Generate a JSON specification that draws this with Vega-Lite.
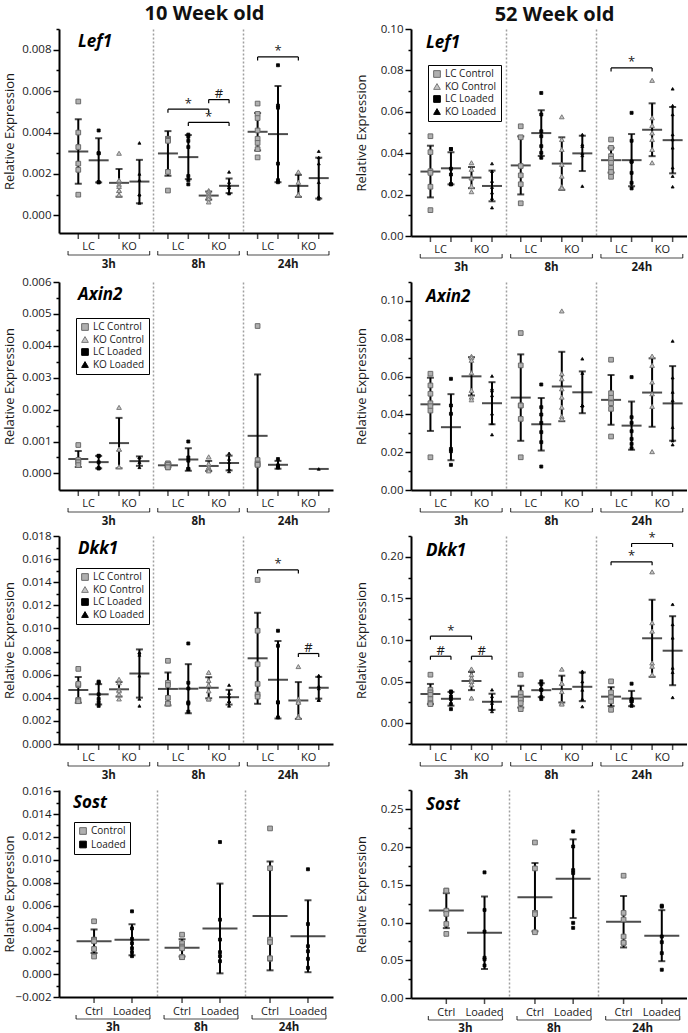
{
"$schema":"https://vega.github.io/schema/vega-lite/v6.json",
"background":"white",
"padding":{"left":3,"top":4,"right":0,"bottom":0},
"config":{
 "font":"Open Sans",
 "view":{"stroke":null},
 "axisY":{"grid":false,"domainColor":"#000","domainWidth":2,"tickColor":"#000","tickWidth":1.5,"labelFontSize":11.5,"labelColor":"#1a1a1a","labelPadding":2,"labelOverlap":false,"titleFontSize":13,"titleFontWeight":"normal","titleColor":"#1a1a1a","titleX":-46,"titleBaseline":"alphabetic"},
 "axisX":{"labels":false,"ticks":false,"domainColor":"#000","domainWidth":2,"grid":true,"gridDash":[2,2],"gridColor":"#a0a0a0","gridWidth":1.5,"bandPosition":0}
},
"datasets":{
"cats4":[{"t":"3h","c":"LC Control","lab":"LC"},{"t":"3h","c":"LC Loaded","lab":""},{"t":"3h","c":"KO Control","lab":"KO"},{"t":"3h","c":"KO Loaded","lab":""},{"t":"8h","c":"LC Control","lab":"LC"},{"t":"8h","c":"LC Loaded","lab":""},{"t":"8h","c":"KO Control","lab":"KO"},{"t":"8h","c":"KO Loaded","lab":""},{"t":"24h","c":"LC Control","lab":"LC"},{"t":"24h","c":"LC Loaded","lab":""},{"t":"24h","c":"KO Control","lab":"KO"},{"t":"24h","c":"KO Loaded","lab":""}],
"cats2":[{"t":"3h","c":"Control","lab":"Ctrl"},{"t":"3h","c":"Loaded","lab":"Loaded"},{"t":"8h","c":"Control","lab":"Ctrl"},{"t":"8h","c":"Loaded","lab":"Loaded"},{"t":"24h","c":"Control","lab":"Ctrl"},{"t":"24h","c":"Loaded","lab":"Loaded"}],
"times":[{"t":"3h"},{"t":"8h"},{"t":"24h"}],
"p1":[
{"t":"3h","c":"LC Control","v":0.0055},{"t":"3h","c":"LC Control","v":0.0040},{"t":"3h","c":"LC Control","v":0.0033},{"t":"3h","c":"LC Control","v":0.0025},{"t":"3h","c":"LC Control","v":0.0022},{"t":"3h","c":"LC Control","v":0.0010},
{"t":"3h","c":"LC Loaded","v":0.0041},{"t":"3h","c":"LC Loaded","v":0.0030},{"t":"3h","c":"LC Loaded","v":0.0030},{"t":"3h","c":"LC Loaded","v":0.0016},{"t":"3h","c":"LC Loaded","v":0.0016},
{"t":"3h","c":"KO Control","v":0.0030},{"t":"3h","c":"KO Control","v":0.0017},{"t":"3h","c":"KO Control","v":0.0015},{"t":"3h","c":"KO Control","v":0.0014},{"t":"3h","c":"KO Control","v":0.0012},{"t":"3h","c":"KO Control","v":0.0012},{"t":"3h","c":"KO Control","v":0.0010},
{"t":"3h","c":"KO Loaded","v":0.0035},{"t":"3h","c":"KO Loaded","v":0.0020},{"t":"3h","c":"KO Loaded","v":0.0017},{"t":"3h","c":"KO Loaded","v":0.0010},{"t":"3h","c":"KO Loaded","v":0.0010},{"t":"3h","c":"KO Loaded","v":0.0006},
{"t":"8h","c":"LC Control","v":0.0037},{"t":"8h","c":"LC Control","v":0.0037},{"t":"8h","c":"LC Control","v":0.00365},{"t":"8h","c":"LC Control","v":0.0036},{"t":"8h","c":"LC Control","v":0.0021},{"t":"8h","c":"LC Control","v":0.0012},
{"t":"8h","c":"LC Loaded","v":0.0039},{"t":"8h","c":"LC Loaded","v":0.0038},{"t":"8h","c":"LC Loaded","v":0.0036},{"t":"8h","c":"LC Loaded","v":0.0033},{"t":"8h","c":"LC Loaded","v":0.0019},{"t":"8h","c":"LC Loaded","v":0.0017},{"t":"8h","c":"LC Loaded","v":0.0015},
{"t":"8h","c":"KO Control","v":0.0012},{"t":"8h","c":"KO Control","v":0.00115},{"t":"8h","c":"KO Control","v":0.00105},{"t":"8h","c":"KO Control","v":0.00095},{"t":"8h","c":"KO Control","v":0.0009},{"t":"8h","c":"KO Control","v":0.0008},{"t":"8h","c":"KO Control","v":0.00065},
{"t":"8h","c":"KO Loaded","v":0.0021},{"t":"8h","c":"KO Loaded","v":0.0016},{"t":"8h","c":"KO Loaded","v":0.00145},{"t":"8h","c":"KO Loaded","v":0.00135},{"t":"8h","c":"KO Loaded","v":0.00135},{"t":"8h","c":"KO Loaded","v":0.0011},{"t":"8h","c":"KO Loaded","v":0.00105},
{"t":"24h","c":"LC Control","v":0.0054},{"t":"24h","c":"LC Control","v":0.0049},{"t":"24h","c":"LC Control","v":0.0047},{"t":"24h","c":"LC Control","v":0.0041},{"t":"24h","c":"LC Control","v":0.0037},{"t":"24h","c":"LC Control","v":0.0035},{"t":"24h","c":"LC Control","v":0.0032},{"t":"24h","c":"LC Control","v":0.0028},
{"t":"24h","c":"LC Loaded","v":0.00725},{"t":"24h","c":"LC Loaded","v":0.0053},{"t":"24h","c":"LC Loaded","v":0.0052},{"t":"24h","c":"LC Loaded","v":0.0025},{"t":"24h","c":"LC Loaded","v":0.0017},{"t":"24h","c":"LC Loaded","v":0.0016},
{"t":"24h","c":"KO Control","v":0.0021},{"t":"24h","c":"KO Control","v":0.0016},{"t":"24h","c":"KO Control","v":0.0010},{"t":"24h","c":"KO Control","v":0.0010},
{"t":"24h","c":"KO Loaded","v":0.0031},{"t":"24h","c":"KO Loaded","v":0.0028},{"t":"24h","c":"KO Loaded","v":0.0025},{"t":"24h","c":"KO Loaded","v":0.0016},{"t":"24h","c":"KO Loaded","v":0.0009},{"t":"24h","c":"KO Loaded","v":0.0009},{"t":"24h","c":"KO Loaded","v":0.0008}],
"s1":[{"b":1,"t":"8h","c":"LC Control","v":0.00513,"lo":0.00496,"o":1},{"b":1,"t":"8h","c":"KO Control","v":0.00513,"lo":0.00496,"o":2},{"b":2,"t":"8h","c":"KO Control","v":0.00559,"lo":0.00542,"o":1},{"b":2,"t":"8h","c":"KO Loaded","v":0.00559,"lo":0.00542,"o":2},{"b":3,"t":"8h","c":"LC Loaded","v":0.00449,"lo":0.00432,"o":1},{"b":3,"t":"8h","c":"KO Loaded","v":0.00449,"lo":0.00432,"o":2},{"b":4,"t":"24h","c":"LC Control","v":0.00765,"lo":0.00748,"o":1},{"b":4,"t":"24h","c":"KO Control","v":0.00765,"lo":0.00748,"o":2}],
"k1":[{"t":"8h","c":"LC Loaded","v":0.00513,"s":"*","h":0},{"t":"8h","c":"KO Control","v":0.00559,"s":"#","h":1},{"t":"8h","c":"KO Control","v":0.00449,"s":"*","h":0},{"t":"24h","c":"LC Loaded","v":0.00765,"s":"*","h":0}],
"p2":[
{"t":"3h","c":"LC Control","v":0.0482},{"t":"3h","c":"LC Control","v":0.0405},{"t":"3h","c":"LC Control","v":0.0313},{"t":"3h","c":"LC Control","v":0.0305},{"t":"3h","c":"LC Control","v":0.0238},{"t":"3h","c":"LC Control","v":0.0125},
{"t":"3h","c":"LC Loaded","v":0.042},{"t":"3h","c":"LC Loaded","v":0.042},{"t":"3h","c":"LC Loaded","v":0.0325},{"t":"3h","c":"LC Loaded","v":0.0297},{"t":"3h","c":"LC Loaded","v":0.025},{"t":"3h","c":"LC Loaded","v":0.025},
{"t":"3h","c":"KO Control","v":0.0354},{"t":"3h","c":"KO Control","v":0.0322},{"t":"3h","c":"KO Control","v":0.0281},{"t":"3h","c":"KO Control","v":0.0281},{"t":"3h","c":"KO Control","v":0.0241},{"t":"3h","c":"KO Control","v":0.0214},
{"t":"3h","c":"KO Loaded","v":0.035},{"t":"3h","c":"KO Loaded","v":0.0313},{"t":"3h","c":"KO Loaded","v":0.0265},{"t":"3h","c":"KO Loaded","v":0.0236},{"t":"3h","c":"KO Loaded","v":0.0209},{"t":"3h","c":"KO Loaded","v":0.0182},{"t":"3h","c":"KO Loaded","v":0.0137},
{"t":"8h","c":"LC Control","v":0.053},{"t":"8h","c":"LC Control","v":0.0477},{"t":"8h","c":"LC Control","v":0.0338},{"t":"8h","c":"LC Control","v":0.0293},{"t":"8h","c":"LC Control","v":0.025},{"t":"8h","c":"LC Control","v":0.0158},
{"t":"8h","c":"LC Loaded","v":0.0691},{"t":"8h","c":"LC Loaded","v":0.0587},{"t":"8h","c":"LC Loaded","v":0.0506},{"t":"8h","c":"LC Loaded","v":0.0482},{"t":"8h","c":"LC Loaded","v":0.0434},{"t":"8h","c":"LC Loaded","v":0.0402},{"t":"8h","c":"LC Loaded","v":0.0378},
{"t":"8h","c":"KO Control","v":0.0576},{"t":"8h","c":"KO Control","v":0.0466},{"t":"8h","c":"KO Control","v":0.0418},{"t":"8h","c":"KO Control","v":0.0346},{"t":"8h","c":"KO Control","v":0.0289},{"t":"8h","c":"KO Control","v":0.0238},{"t":"8h","c":"KO Control","v":0.0233},{"t":"8h","c":"KO Control","v":0.0233},
{"t":"8h","c":"KO Loaded","v":0.049},{"t":"8h","c":"KO Loaded","v":0.0442},{"t":"8h","c":"KO Loaded","v":0.0434},{"t":"8h","c":"KO Loaded","v":0.0399},{"t":"8h","c":"KO Loaded","v":0.0389},{"t":"8h","c":"KO Loaded","v":0.0241},
{"t":"24h","c":"LC Control","v":0.0466},{"t":"24h","c":"LC Control","v":0.0426},{"t":"24h","c":"LC Control","v":0.0386},{"t":"24h","c":"LC Control","v":0.0373},{"t":"24h","c":"LC Control","v":0.0354},{"t":"24h","c":"LC Control","v":0.033},{"t":"24h","c":"LC Control","v":0.0309},{"t":"24h","c":"LC Control","v":0.0286},
{"t":"24h","c":"LC Loaded","v":0.0595},{"t":"24h","c":"LC Loaded","v":0.046},{"t":"24h","c":"LC Loaded","v":0.0359},{"t":"24h","c":"LC Loaded","v":0.0359},{"t":"24h","c":"LC Loaded","v":0.0305},{"t":"24h","c":"LC Loaded","v":0.0257},{"t":"24h","c":"LC Loaded","v":0.023},
{"t":"24h","c":"KO Control","v":0.0752},{"t":"24h","c":"KO Control","v":0.0571},{"t":"24h","c":"KO Control","v":0.0534},{"t":"24h","c":"KO Control","v":0.0498},{"t":"24h","c":"KO Control","v":0.0466},{"t":"24h","c":"KO Control","v":0.0418},{"t":"24h","c":"KO Control","v":0.0354},
{"t":"24h","c":"KO Loaded","v":0.0711},{"t":"24h","c":"KO Loaded","v":0.063},{"t":"24h","c":"KO Loaded","v":0.0587},{"t":"24h","c":"KO Loaded","v":0.049},{"t":"24h","c":"KO Loaded","v":0.0466},{"t":"24h","c":"KO Loaded","v":0.0426},{"t":"24h","c":"KO Loaded","v":0.033},{"t":"24h","c":"KO Loaded","v":0.0289},{"t":"24h","c":"KO Loaded","v":0.0238}],
"s2":[{"b":1,"t":"24h","c":"LC Control","v":0.0812,"lo":0.0795,"o":1},{"b":1,"t":"24h","c":"KO Control","v":0.0812,"lo":0.0795,"o":2}],
"k2":[{"t":"24h","c":"LC Loaded","v":0.0812,"s":"*","h":0}],
"p3":[
{"t":"3h","c":"LC Control","v":0.00089},{"t":"3h","c":"LC Control","v":0.00042},{"t":"3h","c":"LC Control","v":0.00035},{"t":"3h","c":"LC Control","v":0.00035},{"t":"3h","c":"LC Control","v":0.00026},
{"t":"3h","c":"LC Loaded","v":0.00055},{"t":"3h","c":"LC Loaded","v":0.00055},{"t":"3h","c":"LC Loaded","v":0.00035},{"t":"3h","c":"LC Loaded","v":0.00016},{"t":"3h","c":"LC Loaded","v":0.00016},
{"t":"3h","c":"KO Control","v":0.00207},{"t":"3h","c":"KO Control","v":0.00076},{"t":"3h","c":"KO Control","v":0.00076},{"t":"3h","c":"KO Control","v":0.00021},
{"t":"3h","c":"KO Loaded","v":0.0005},{"t":"3h","c":"KO Loaded","v":0.0005},{"t":"3h","c":"KO Loaded","v":0.00035},{"t":"3h","c":"KO Loaded","v":0.00019},
{"t":"8h","c":"LC Control","v":0.00031},{"t":"8h","c":"LC Control","v":0.00031},{"t":"8h","c":"LC Control","v":0.00027},{"t":"8h","c":"LC Control","v":0.00019},{"t":"8h","c":"LC Control","v":0.00019},
{"t":"8h","c":"LC Loaded","v":0.001},{"t":"8h","c":"LC Loaded","v":0.0005},{"t":"8h","c":"LC Loaded","v":0.0004},{"t":"8h","c":"LC Loaded","v":0.00014},{"t":"8h","c":"LC Loaded","v":0.00014},
{"t":"8h","c":"KO Control","v":0.00052},{"t":"8h","c":"KO Control","v":0.0003},{"t":"8h","c":"KO Control","v":0.00019},{"t":"8h","c":"KO Control","v":0.00019},{"t":"8h","c":"KO Control","v":0.00012},{"t":"8h","c":"KO Control","v":0.00008},
{"t":"8h","c":"KO Loaded","v":0.00063},{"t":"8h","c":"KO Loaded","v":0.00045},{"t":"8h","c":"KO Loaded","v":0.00035},{"t":"8h","c":"KO Loaded","v":0.00014},{"t":"8h","c":"KO Loaded","v":0.00006},
{"t":"24h","c":"LC Control","v":0.00462},{"t":"24h","c":"LC Control","v":0.00042},{"t":"24h","c":"LC Control","v":0.00031},{"t":"24h","c":"LC Control","v":0.00027},{"t":"24h","c":"LC Control","v":0.00027},
{"t":"24h","c":"LC Loaded","v":0.00045},{"t":"24h","c":"LC Loaded","v":0.00025},{"t":"24h","c":"LC Loaded","v":0.00019},{"t":"24h","c":"LC Loaded","v":0.00019},
{"t":"24h","c":"KO Loaded","v":0.00014}],
"p4":[
{"t":"3h","c":"LC Control","v":0.0615},{"t":"3h","c":"LC Control","v":0.0553},{"t":"3h","c":"LC Control","v":0.0509},{"t":"3h","c":"LC Control","v":0.0459},{"t":"3h","c":"LC Control","v":0.0443},{"t":"3h","c":"LC Control","v":0.042},{"t":"3h","c":"LC Control","v":0.0173},
{"t":"3h","c":"LC Loaded","v":0.0588},{"t":"3h","c":"LC Loaded","v":0.0447},{"t":"3h","c":"LC Loaded","v":0.0403},{"t":"3h","c":"LC Loaded","v":0.0217},{"t":"3h","c":"LC Loaded","v":0.0205},{"t":"3h","c":"LC Loaded","v":0.0133},
{"t":"3h","c":"KO Control","v":0.0707},{"t":"3h","c":"KO Control","v":0.07},{"t":"3h","c":"KO Control","v":0.0686},{"t":"3h","c":"KO Control","v":0.062},{"t":"3h","c":"KO Control","v":0.0527},{"t":"3h","c":"KO Control","v":0.0491},{"t":"3h","c":"KO Control","v":0.0477},
{"t":"3h","c":"KO Loaded","v":0.0603},{"t":"3h","c":"KO Loaded","v":0.0535},{"t":"3h","c":"KO Loaded","v":0.0525},{"t":"3h","c":"KO Loaded","v":0.05},{"t":"3h","c":"KO Loaded","v":0.0403},{"t":"3h","c":"KO Loaded","v":0.0353},{"t":"3h","c":"KO Loaded","v":0.0293},
{"t":"8h","c":"LC Control","v":0.083},{"t":"8h","c":"LC Control","v":0.0659},{"t":"8h","c":"LC Control","v":0.0447},{"t":"8h","c":"LC Control","v":0.0447},{"t":"8h","c":"LC Control","v":0.0376},{"t":"8h","c":"LC Control","v":0.0173},
{"t":"8h","c":"LC Loaded","v":0.0558},{"t":"8h","c":"LC Loaded","v":0.0438},{"t":"8h","c":"LC Loaded","v":0.0399},{"t":"8h","c":"LC Loaded","v":0.0355},{"t":"8h","c":"LC Loaded","v":0.0306},{"t":"8h","c":"LC Loaded","v":0.0253},{"t":"8h","c":"LC Loaded","v":0.0124},
{"t":"8h","c":"KO Control","v":0.0947},{"t":"8h","c":"KO Control","v":0.0615},{"t":"8h","c":"KO Control","v":0.0588},{"t":"8h","c":"KO Control","v":0.0535},{"t":"8h","c":"KO Control","v":0.0491},{"t":"8h","c":"KO Control","v":0.0438},{"t":"8h","c":"KO Control","v":0.0389},{"t":"8h","c":"KO Control","v":0.0376},
{"t":"8h","c":"KO Loaded","v":0.0694},{"t":"8h","c":"KO Loaded","v":0.0618},{"t":"8h","c":"KO Loaded","v":0.0447},{"t":"8h","c":"KO Loaded","v":0.0447},{"t":"8h","c":"KO Loaded","v":0.0447},{"t":"8h","c":"KO Loaded","v":0.0447},
{"t":"24h","c":"LC Control","v":0.0689},{"t":"24h","c":"LC Control","v":0.0512},{"t":"24h","c":"LC Control","v":0.0488},{"t":"24h","c":"LC Control","v":0.0459},{"t":"24h","c":"LC Control","v":0.0429},{"t":"24h","c":"LC Control","v":0.0283},
{"t":"24h","c":"LC Loaded","v":0.0597},{"t":"24h","c":"LC Loaded","v":0.0385},{"t":"24h","c":"LC Loaded","v":0.0355},{"t":"24h","c":"LC Loaded","v":0.0311},{"t":"24h","c":"LC Loaded","v":0.027},{"t":"24h","c":"LC Loaded","v":0.0244},{"t":"24h","c":"LC Loaded","v":0.0221},
{"t":"24h","c":"KO Control","v":0.0708},{"t":"24h","c":"KO Control","v":0.0659},{"t":"24h","c":"KO Control","v":0.0571},{"t":"24h","c":"KO Control","v":0.0509},{"t":"24h","c":"KO Control","v":0.0442},{"t":"24h","c":"KO Control","v":0.0203},
{"t":"24h","c":"KO Loaded","v":0.0788},{"t":"24h","c":"KO Loaded","v":0.0594},{"t":"24h","c":"KO Loaded","v":0.0518},{"t":"24h","c":"KO Loaded","v":0.0473},{"t":"24h","c":"KO Loaded","v":0.0332},{"t":"24h","c":"KO Loaded","v":0.0261},{"t":"24h","c":"KO Loaded","v":0.024}],
"p5":[
{"t":"3h","c":"LC Control","v":0.0065},{"t":"3h","c":"LC Control","v":0.0051},{"t":"3h","c":"LC Control","v":0.0052},{"t":"3h","c":"LC Control","v":0.0038},{"t":"3h","c":"LC Control","v":0.0038},{"t":"3h","c":"LC Control","v":0.0037},
{"t":"3h","c":"LC Loaded","v":0.0054},{"t":"3h","c":"LC Loaded","v":0.0053},{"t":"3h","c":"LC Loaded","v":0.0043},{"t":"3h","c":"LC Loaded","v":0.0039},{"t":"3h","c":"LC Loaded","v":0.0036},{"t":"3h","c":"LC Loaded","v":0.0033},
{"t":"3h","c":"KO Control","v":0.0056},{"t":"3h","c":"KO Control","v":0.0053},{"t":"3h","c":"KO Control","v":0.0047},{"t":"3h","c":"KO Control","v":0.0046},{"t":"3h","c":"KO Control","v":0.0043},{"t":"3h","c":"KO Control","v":0.0039},
{"t":"3h","c":"KO Loaded","v":0.0079},{"t":"3h","c":"KO Loaded","v":0.0079},{"t":"3h","c":"KO Loaded","v":0.0077},{"t":"3h","c":"KO Loaded","v":0.0059},{"t":"3h","c":"KO Loaded","v":0.0039},{"t":"3h","c":"KO Loaded","v":0.0033},
{"t":"8h","c":"LC Control","v":0.0072},{"t":"8h","c":"LC Control","v":0.0053},{"t":"8h","c":"LC Control","v":0.0051},{"t":"8h","c":"LC Control","v":0.004},{"t":"8h","c":"LC Control","v":0.0035},{"t":"8h","c":"LC Control","v":0.0035},
{"t":"8h","c":"LC Loaded","v":0.0087},{"t":"8h","c":"LC Loaded","v":0.0053},{"t":"8h","c":"LC Loaded","v":0.0048},{"t":"8h","c":"LC Loaded","v":0.0036},{"t":"8h","c":"LC Loaded","v":0.0035},{"t":"8h","c":"LC Loaded","v":0.0028},
{"t":"8h","c":"KO Control","v":0.0062},{"t":"8h","c":"KO Control","v":0.0055},{"t":"8h","c":"KO Control","v":0.0051},{"t":"8h","c":"KO Control","v":0.0046},{"t":"8h","c":"KO Control","v":0.0039},{"t":"8h","c":"KO Control","v":0.0039},
{"t":"8h","c":"KO Loaded","v":0.0051},{"t":"8h","c":"KO Loaded","v":0.0044},{"t":"8h","c":"KO Loaded","v":0.0041},{"t":"8h","c":"KO Loaded","v":0.0037},{"t":"8h","c":"KO Loaded","v":0.0037},{"t":"8h","c":"KO Loaded","v":0.0033},
{"t":"24h","c":"LC Control","v":0.0142},{"t":"24h","c":"LC Control","v":0.0098},{"t":"24h","c":"LC Control","v":0.0069},{"t":"24h","c":"LC Control","v":0.0052},{"t":"24h","c":"LC Control","v":0.0043},{"t":"24h","c":"LC Control","v":0.0041},
{"t":"24h","c":"LC Loaded","v":0.0098},{"t":"24h","c":"LC Loaded","v":0.0085},{"t":"24h","c":"LC Loaded","v":0.0036},{"t":"24h","c":"LC Loaded","v":0.0036},{"t":"24h","c":"LC Loaded","v":0.0023},
{"t":"24h","c":"KO Control","v":0.0067},{"t":"24h","c":"KO Control","v":0.0039},{"t":"24h","c":"KO Control","v":0.0037},{"t":"24h","c":"KO Control","v":0.0036},{"t":"24h","c":"KO Control","v":0.0024},{"t":"24h","c":"KO Control","v":0.0023},
{"t":"24h","c":"KO Loaded","v":0.0059},{"t":"24h","c":"KO Loaded","v":0.0059},{"t":"24h","c":"KO Loaded","v":0.005},{"t":"24h","c":"KO Loaded","v":0.0048},{"t":"24h","c":"KO Loaded","v":0.0038},{"t":"24h","c":"KO Loaded","v":0.0038}],
"s5":[{"b":1,"t":"24h","c":"LC Control","v":0.01506,"lo":0.01476,"o":1},{"b":1,"t":"24h","c":"KO Control","v":0.01506,"lo":0.01476,"o":2},{"b":2,"t":"24h","c":"KO Control","v":0.00783,"lo":0.00753,"o":1},{"b":2,"t":"24h","c":"KO Loaded","v":0.00783,"lo":0.00753,"o":2}],
"k5":[{"t":"24h","c":"LC Loaded","v":0.01506,"s":"*","h":0},{"t":"24h","c":"KO Control","v":0.00783,"s":"#","h":1}],
"p6":[
{"t":"3h","c":"LC Control","v":0.0583},{"t":"3h","c":"LC Control","v":0.0402},{"t":"3h","c":"LC Control","v":0.037},{"t":"3h","c":"LC Control","v":0.0342},{"t":"3h","c":"LC Control","v":0.029},{"t":"3h","c":"LC Control","v":0.0241},{"t":"3h","c":"LC Control","v":0.0229},
{"t":"3h","c":"LC Loaded","v":0.0382},{"t":"3h","c":"LC Loaded","v":0.037},{"t":"3h","c":"LC Loaded","v":0.032},{"t":"3h","c":"LC Loaded","v":0.029},{"t":"3h","c":"LC Loaded","v":0.0229},{"t":"3h","c":"LC Loaded","v":0.0169},
{"t":"3h","c":"KO Control","v":0.0652},{"t":"3h","c":"KO Control","v":0.0583},{"t":"3h","c":"KO Control","v":0.0543},{"t":"3h","c":"KO Control","v":0.0503},{"t":"3h","c":"KO Control","v":0.0503},{"t":"3h","c":"KO Control","v":0.0463},{"t":"3h","c":"KO Control","v":0.0302},
{"t":"3h","c":"KO Loaded","v":0.0402},{"t":"3h","c":"KO Loaded","v":0.0322},{"t":"3h","c":"KO Loaded","v":0.027},{"t":"3h","c":"KO Loaded","v":0.0241},{"t":"3h","c":"KO Loaded","v":0.0169},{"t":"3h","c":"KO Loaded","v":0.0141},
{"t":"8h","c":"LC Control","v":0.0583},{"t":"8h","c":"LC Control","v":0.0362},{"t":"8h","c":"LC Control","v":0.0314},{"t":"8h","c":"LC Control","v":0.0282},{"t":"8h","c":"LC Control","v":0.0282},{"t":"8h","c":"LC Control","v":0.0241},{"t":"8h","c":"LC Control","v":0.0169},
{"t":"8h","c":"LC Loaded","v":0.0503},{"t":"8h","c":"LC Loaded","v":0.047},{"t":"8h","c":"LC Loaded","v":0.0402},{"t":"8h","c":"LC Loaded","v":0.0402},{"t":"8h","c":"LC Loaded","v":0.0314},{"t":"8h","c":"LC Loaded","v":0.029},
{"t":"8h","c":"KO Control","v":0.065},{"t":"8h","c":"KO Control","v":0.048},{"t":"8h","c":"KO Control","v":0.048},{"t":"8h","c":"KO Control","v":0.038},{"t":"8h","c":"KO Control","v":0.024},{"t":"8h","c":"KO Control","v":0.023},
{"t":"8h","c":"KO Loaded","v":0.0624},{"t":"8h","c":"KO Loaded","v":0.0612},{"t":"8h","c":"KO Loaded","v":0.05},{"t":"8h","c":"KO Loaded","v":0.04},{"t":"8h","c":"KO Loaded","v":0.029},{"t":"8h","c":"KO Loaded","v":0.02},
{"t":"24h","c":"LC Control","v":0.0503},{"t":"24h","c":"LC Control","v":0.037},{"t":"24h","c":"LC Control","v":0.031},{"t":"24h","c":"LC Control","v":0.031},{"t":"24h","c":"LC Control","v":0.0262},{"t":"24h","c":"LC Control","v":0.0161},
{"t":"24h","c":"LC Loaded","v":0.0475},{"t":"24h","c":"LC Loaded","v":0.029},{"t":"24h","c":"LC Loaded","v":0.028},{"t":"24h","c":"LC Loaded","v":0.0262},{"t":"24h","c":"LC Loaded","v":0.0262},{"t":"24h","c":"LC Loaded","v":0.0209},
{"t":"24h","c":"KO Control","v":0.1819},{"t":"24h","c":"KO Control","v":0.1207},{"t":"24h","c":"KO Control","v":0.1107},{"t":"24h","c":"KO Control","v":0.0724},{"t":"24h","c":"KO Control","v":0.0684},{"t":"24h","c":"KO Control","v":0.0583},
{"t":"24h","c":"KO Loaded","v":0.1429},{"t":"24h","c":"KO Loaded","v":0.1187},{"t":"24h","c":"KO Loaded","v":0.1026},{"t":"24h","c":"KO Loaded","v":0.0664},{"t":"24h","c":"KO Loaded","v":0.0612},{"t":"24h","c":"KO Loaded","v":0.031}],
"s6":[{"b":1,"t":"3h","c":"LC Control","v":0.1046,"lo":0.1004,"o":1},{"b":1,"t":"3h","c":"KO Control","v":0.1046,"lo":0.1004,"o":2},{"b":2,"t":"3h","c":"LC Control","v":0.0805,"lo":0.0763,"o":1},{"b":2,"t":"3h","c":"LC Loaded","v":0.0805,"lo":0.0763,"o":2},{"b":3,"t":"3h","c":"KO Control","v":0.0805,"lo":0.0763,"o":1},{"b":3,"t":"3h","c":"KO Loaded","v":0.0805,"lo":0.0763,"o":2},{"b":4,"t":"24h","c":"LC Control","v":0.194,"lo":0.1898,"o":1},{"b":4,"t":"24h","c":"KO Control","v":0.194,"lo":0.1898,"o":2},{"b":5,"t":"24h","c":"LC Loaded","v":0.216,"lo":0.2118,"o":1},{"b":5,"t":"24h","c":"KO Loaded","v":0.216,"lo":0.2118,"o":2}],
"k6":[{"t":"3h","c":"LC Loaded","v":0.1046,"s":"*","h":0},{"t":"3h","c":"LC Control","v":0.0805,"s":"#","h":1},{"t":"3h","c":"KO Control","v":0.0805,"s":"#","h":1},{"t":"24h","c":"LC Loaded","v":0.194,"s":"*","h":0},{"t":"24h","c":"KO Control","v":0.216,"s":"*","h":0}],
"p7":[
{"t":"3h","c":"Control","v":0.00462},{"t":"3h","c":"Control","v":0.00302},{"t":"3h","c":"Control","v":0.003},{"t":"3h","c":"Control","v":0.00287},{"t":"3h","c":"Control","v":0.0022},{"t":"3h","c":"Control","v":0.00154},
{"t":"3h","c":"Loaded","v":0.00549},{"t":"3h","c":"Loaded","v":0.004},{"t":"3h","c":"Loaded","v":0.00308},{"t":"3h","c":"Loaded","v":0.0027},{"t":"3h","c":"Loaded","v":0.00226},{"t":"3h","c":"Loaded","v":0.00192},{"t":"3h","c":"Loaded","v":0.00157},
{"t":"8h","c":"Control","v":0.00345},{"t":"8h","c":"Control","v":0.0027},{"t":"8h","c":"Control","v":0.00241},{"t":"8h","c":"Control","v":0.00226},{"t":"8h","c":"Control","v":0.00148},{"t":"8h","c":"Control","v":0.00148},
{"t":"8h","c":"Loaded","v":0.01155},{"t":"8h","c":"Loaded","v":0.00476},{"t":"8h","c":"Loaded","v":0.00302},{"t":"8h","c":"Loaded","v":0.00192},{"t":"8h","c":"Loaded","v":0.00157},{"t":"8h","c":"Loaded","v":0.00113},
{"t":"24h","c":"Control","v":0.01274},{"t":"24h","c":"Control","v":0.00926},{"t":"24h","c":"Control","v":0.00302},{"t":"24h","c":"Control","v":0.00279},{"t":"24h","c":"Control","v":0.00134},{"t":"24h","c":"Control","v":0.00139},
{"t":"24h","c":"Loaded","v":0.00917},{"t":"24h","c":"Loaded","v":0.00438},{"t":"24h","c":"Loaded","v":0.00244},{"t":"24h","c":"Loaded","v":0.002},{"t":"24h","c":"Loaded","v":0.00134},{"t":"24h","c":"Loaded","v":0.00055}],
"p8":[
{"t":"3h","c":"Control","v":0.1422},{"t":"3h","c":"Control","v":0.1422},{"t":"3h","c":"Control","v":0.1157},{"t":"3h","c":"Control","v":0.1113},{"t":"3h","c":"Control","v":0.0981},{"t":"3h","c":"Control","v":0.0849},
{"t":"3h","c":"Loaded","v":0.1664},{"t":"3h","c":"Loaded","v":0.1166},{"t":"3h","c":"Loaded","v":0.088},{"t":"3h","c":"Loaded","v":0.0533},{"t":"3h","c":"Loaded","v":0.0511},{"t":"3h","c":"Loaded","v":0.0431},
{"t":"8h","c":"Control","v":0.206},{"t":"8h","c":"Control","v":0.1716},{"t":"8h","c":"Control","v":0.1127},{"t":"8h","c":"Control","v":0.1127},{"t":"8h","c":"Control","v":0.111},{"t":"8h","c":"Control","v":0.0871},
{"t":"8h","c":"Loaded","v":0.2205},{"t":"8h","c":"Loaded","v":0.2007},{"t":"8h","c":"Loaded","v":0.1694},{"t":"8h","c":"Loaded","v":0.1655},{"t":"8h","c":"Loaded","v":0.0995},{"t":"8h","c":"Loaded","v":0.0929},
{"t":"24h","c":"Control","v":0.162},{"t":"24h","c":"Control","v":0.1127},{"t":"24h","c":"Control","v":0.1039},{"t":"24h","c":"Control","v":0.0814},{"t":"24h","c":"Control","v":0.0731},{"t":"24h","c":"Control","v":0.0731},
{"t":"24h","c":"Loaded","v":0.121},{"t":"24h","c":"Loaded","v":0.1223},{"t":"24h","c":"Loaded","v":0.0814},{"t":"24h","c":"Loaded","v":0.0739},{"t":"24h","c":"Loaded","v":0.0594},{"t":"24h","c":"Loaded","v":0.0374}]
},
"columns":2,
"spacing":{"row":46,"column":78},
"bounds":"flush",
"resolve":{"scale":{"shape":"independent","fill":"independent","stroke":"independent","xOffset":"independent"},"legend":{"shape":"independent","fill":"independent","stroke":"independent"}},
"concat":[
{"width":274,"height":204,"layer":[
{"data":{"name":"p1"},"transform":[{"aggregate":[{"op":"mean","field":"v","as":"m"},{"op":"stdev","field":"v","as":"sd"}],"groupby":["t","c"]},{"calculate":"datum.m-datum.sd","as":"lo"},{"calculate":"datum.m+datum.sd","as":"hi"}],"mark":{"type":"rule","strokeWidth":2,"color":"#000","clip":true},"encoding":{"x":{"field":"t","type":"nominal","title":null,"scale":{"domain":["3h","8h","24h"],"paddingInner":0,"paddingOuter":0.028,"align":1},"axis":{"gridOpacity":{"condition":{"test":"datum.value === '3h'","value":0},"value":1}}},"xOffset":{"field":"c","type":"nominal","scale":{"domain":["LC Control","LC Loaded","KO Control","KO Loaded"],"paddingInner":0,"paddingOuter":0.2}},"y":{"field":"lo","type":"quantitative","scale":{"domain":[-0.00085,0.009],"nice":false,"zero":false},"axis":{"title":"Relative Expression","labelOverlap":false,"tickCount":100,"values":[0,0.001,0.002,0.003,0.004,0.005,0.006,0.007,0.008,0.009],"labelExpr":"round(datum.value*1000)%2==0 ? format(datum.value,'.3f') : ''","tickSize":{"condition":{"test":"round(datum.value*1000)%2==0","value":6},"value":3}}},"y2":{"field":"hi"}}},
{"data":{"name":"p1"},"transform":[{"aggregate":[{"op":"mean","field":"v","as":"m"},{"op":"stdev","field":"v","as":"sd"}],"groupby":["t","c"]},{"calculate":"datum.m-datum.sd","as":"lo"},{"calculate":"datum.m+datum.sd","as":"hi"},{"fold":["lo","hi"],"as":["k","cv"]}],"mark":{"type":"tick","orient":"horizontal","size":7,"thickness":2,"color":"#000","clip":true},"encoding":{"x":{"field":"t","type":"nominal","scale":{"domain":["3h","8h","24h"],"paddingInner":0,"paddingOuter":0.028,"align":1}},"xOffset":{"field":"c","type":"nominal","scale":{"domain":["LC Control","LC Loaded","KO Control","KO Loaded"],"paddingInner":0,"paddingOuter":0.2}},"y":{"field":"cv","type":"quantitative","scale":{"domain":[-0.00085,0.009],"nice":false,"zero":false}}}},
{"data":{"name":"p1"},"transform":[{"aggregate":[{"op":"mean","field":"v","as":"m"}],"groupby":["t","c"]}],"mark":{"type":"tick","orient":"horizontal","size":20,"thickness":2,"color":"#000"},"encoding":{"x":{"field":"t","type":"nominal","scale":{"domain":["3h","8h","24h"],"paddingInner":0,"paddingOuter":0.028,"align":1}},"xOffset":{"field":"c","type":"nominal","scale":{"domain":["LC Control","LC Loaded","KO Control","KO Loaded"],"paddingInner":0,"paddingOuter":0.2}},"y":{"field":"m","type":"quantitative","scale":{"domain":[-0.00085,0.009],"nice":false,"zero":false}}}},
{"data":{"name":"p1"},"transform":[{"filter":"indexof(datum.c,'Control')>=0"}],"mark":{"type":"point","filled":true,"size":22,"strokeWidth":1,"opacity":1},"encoding":{"x":{"field":"t","type":"nominal","scale":{"domain":["3h","8h","24h"],"paddingInner":0,"paddingOuter":0.028,"align":1}},"xOffset":{"field":"c","type":"nominal","scale":{"domain":["LC Control","LC Loaded","KO Control","KO Loaded"],"paddingInner":0,"paddingOuter":0.2}},"y":{"field":"v","type":"quantitative","scale":{"domain":[-0.00085,0.009],"nice":false,"zero":false}},"shape":{"field":"c","type":"nominal","scale":{"domain":["LC Control","KO Control","LC Loaded","KO Loaded"],"range":["square","triangle-up","square","triangle-up"]},"legend":null},"fill":{"field":"c","type":"nominal","scale":{"domain":["LC Control","KO Control","LC Loaded","KO Loaded"],"range":["#b0b0b0","#c6c6c6","#000000","#000000"]},"legend":null},"stroke":{"field":"c","type":"nominal","scale":{"domain":["LC Control","KO Control","LC Loaded","KO Loaded"],"range":["#6b6b6b","#7a7a7a","#000000","#000000"]},"legend":null}}},
{"data":{"name":"p1"},"transform":[{"filter":"indexof(datum.c,'Loaded')>=0"}],"mark":{"type":"point","filled":true,"size":9,"strokeWidth":0.8,"opacity":1},"encoding":{"x":{"field":"t","type":"nominal","scale":{"domain":["3h","8h","24h"],"paddingInner":0,"paddingOuter":0.028,"align":1}},"xOffset":{"field":"c","type":"nominal","scale":{"domain":["LC Control","LC Loaded","KO Control","KO Loaded"],"paddingInner":0,"paddingOuter":0.2}},"y":{"field":"v","type":"quantitative","scale":{"domain":[-0.00085,0.009],"nice":false,"zero":false}},"shape":{"field":"c","type":"nominal","scale":{"domain":["LC Control","KO Control","LC Loaded","KO Loaded"],"range":["square","triangle-up","square","triangle-up"]},"legend":null},"fill":{"field":"c","type":"nominal","scale":{"domain":["LC Control","KO Control","LC Loaded","KO Loaded"],"range":["#b0b0b0","#c6c6c6","#000000","#000000"]},"legend":null},"stroke":{"field":"c","type":"nominal","scale":{"domain":["LC Control","KO Control","LC Loaded","KO Loaded"],"range":["#6b6b6b","#7a7a7a","#000000","#000000"]},"legend":null}}},
{"data":{"name":"cats4"},"mark":{"type":"tick","orient":"vertical","size":5,"thickness":1.5,"yOffset":3.5,"color":"#000"},"encoding":{"x":{"field":"t","type":"nominal","scale":{"domain":["3h","8h","24h"],"paddingInner":0,"paddingOuter":0.028,"align":1}},"xOffset":{"field":"c","type":"nominal","scale":{"domain":["LC Control","LC Loaded","KO Control","KO Loaded"],"paddingInner":0,"paddingOuter":0.2}},"y":{"datum":-0.00085,"type":"quantitative","scale":{"domain":[-0.00085,0.009],"nice":false,"zero":false}}}},
{"data":{"name":"cats4"},"transform":[{"filter":"datum.lab != ''"}],"mark":{"type":"text","dx":10.2,"dy":14,"fontSize":11,"baseline":"middle","color":"#1a1a1a"},"encoding":{"x":{"field":"t","type":"nominal","scale":{"domain":["3h","8h","24h"],"paddingInner":0,"paddingOuter":0.028,"align":1}},"xOffset":{"field":"c","type":"nominal","scale":{"domain":["LC Control","LC Loaded","KO Control","KO Loaded"],"paddingInner":0,"paddingOuter":0.2}},"y":{"datum":-0.00085,"type":"quantitative","scale":{"domain":[-0.00085,0.009],"nice":false,"zero":false}},"text":{"field":"lab"}}},
{"data":{"name":"times"},"mark":{"type":"tick","orient":"horizontal","size":82,"thickness":1.2,"yOffset":22,"color":"#000"},"encoding":{"x":{"field":"t","type":"nominal","scale":{"domain":["3h","8h","24h"],"paddingInner":0,"paddingOuter":0.028,"align":1}},"y":{"datum":-0.00085,"type":"quantitative","scale":{"domain":[-0.00085,0.009],"nice":false,"zero":false}}}},
{"data":{"name":"times"},"mark":{"type":"tick","orient":"vertical","size":4,"thickness":1.2,"yOffset":20,"color":"#000"},"encoding":{"x":{"field":"t","type":"nominal","bandPosition":0.045,"scale":{"domain":["3h","8h","24h"],"paddingInner":0,"paddingOuter":0.028,"align":1}},"y":{"datum":-0.00085,"type":"quantitative","scale":{"domain":[-0.00085,0.009],"nice":false,"zero":false}}}},
{"data":{"name":"times"},"mark":{"type":"tick","orient":"vertical","size":4,"thickness":1.2,"yOffset":20,"color":"#000"},"encoding":{"x":{"field":"t","type":"nominal","bandPosition":0.955,"scale":{"domain":["3h","8h","24h"],"paddingInner":0,"paddingOuter":0.028,"align":1}},"y":{"datum":-0.00085,"type":"quantitative","scale":{"domain":[-0.00085,0.009],"nice":false,"zero":false}}}},
{"data":{"name":"times"},"mark":{"type":"text","dy":32,"fontSize":11.5,"fontWeight":"bold","baseline":"middle","color":"#1a1a1a"},"encoding":{"x":{"field":"t","type":"nominal","scale":{"domain":["3h","8h","24h"],"paddingInner":0,"paddingOuter":0.028,"align":1}},"y":{"datum":-0.00085,"type":"quantitative","scale":{"domain":[-0.00085,0.009],"nice":false,"zero":false}},"text":{"field":"t"}}},
{"data":{"values":[{"t":"3h","g":"Lef1"}]},"mark":{"type":"text","align":"left","baseline":"top","dx":14,"dy":5,"fontSize":17,"fontWeight":"bold","fontStyle":"italic","color":"#000"},"encoding":{"x":{"field":"t","type":"nominal","bandPosition":0,"scale":{"domain":["3h","8h","24h"],"paddingInner":0,"paddingOuter":0.028,"align":1}},"y":{"datum":0.009,"type":"quantitative","scale":{"domain":[-0.00085,0.009],"nice":false,"zero":false}},"text":{"field":"g"}}},
{"data":{"values":[{"t":"8h","g":"10 Week old"}]},"mark":{"type":"text","baseline":"alphabetic","dx":6,"dy":-9,"fontSize":20,"fontWeight":"bold","color":"#111"},"encoding":{"x":{"field":"t","type":"nominal","scale":{"domain":["3h","8h","24h"],"paddingInner":0,"paddingOuter":0.028,"align":1}},"y":{"datum":0.009,"type":"quantitative","scale":{"domain":[-0.00085,0.009],"nice":false,"zero":false}},"text":{"field":"g"}}},
{"data":{"name":"s1"},"mark":{"type":"line","color":"#000","strokeWidth":1.2},"encoding":{"x":{"field":"t","type":"nominal","scale":{"domain":["3h","8h","24h"],"paddingInner":0,"paddingOuter":0.028,"align":1}},"xOffset":{"field":"c","type":"nominal","scale":{"domain":["LC Control","LC Loaded","KO Control","KO Loaded"],"paddingInner":0,"paddingOuter":0.2}},"y":{"field":"v","type":"quantitative","scale":{"domain":[-0.00085,0.009],"nice":false,"zero":false}},"detail":{"field":"b","type":"nominal"},"order":{"field":"o","type":"quantitative"}}},
{"data":{"name":"s1"},"mark":{"type":"rule","color":"#000","strokeWidth":1.2},"encoding":{"x":{"field":"t","type":"nominal","scale":{"domain":["3h","8h","24h"],"paddingInner":0,"paddingOuter":0.028,"align":1}},"xOffset":{"field":"c","type":"nominal","scale":{"domain":["LC Control","LC Loaded","KO Control","KO Loaded"],"paddingInner":0,"paddingOuter":0.2}},"y":{"field":"v","type":"quantitative","scale":{"domain":[-0.00085,0.009],"nice":false,"zero":false}},"y2":{"field":"lo"}}},
{"data":{"name":"k1"},"transform":[{"filter":"datum.h==0"}],"mark":{"type":"text","fontSize":13,"baseline":"alphabetic","dy":-1.5,"color":"#1a1a1a"},"encoding":{"x":{"field":"t","type":"nominal","scale":{"domain":["3h","8h","24h"],"paddingInner":0,"paddingOuter":0.028,"align":1}},"xOffset":{"field":"c","type":"nominal","scale":{"domain":["LC Control","LC Loaded","KO Control","KO Loaded"],"paddingInner":0,"paddingOuter":0.2}},"y":{"field":"v","type":"quantitative","scale":{"domain":[-0.00085,0.009],"nice":false,"zero":false}},"text":{"field":"s"}}},
{"data":{"name":"k1"},"transform":[{"filter":"datum.h==1"}],"mark":{"type":"text","fontSize":13,"baseline":"alphabetic","dy":-1.5,"dx":10.2,"color":"#1a1a1a"},"encoding":{"x":{"field":"t","type":"nominal","scale":{"domain":["3h","8h","24h"],"paddingInner":0,"paddingOuter":0.028,"align":1}},"xOffset":{"field":"c","type":"nominal","scale":{"domain":["LC Control","LC Loaded","KO Control","KO Loaded"],"paddingInner":0,"paddingOuter":0.2}},"y":{"field":"v","type":"quantitative","scale":{"domain":[-0.00085,0.009],"nice":false,"zero":false}},"text":{"field":"s"}}}
]},
{"width":276,"height":207,"layer":[
{"data":{"name":"p2"},"transform":[{"aggregate":[{"op":"mean","field":"v","as":"m"},{"op":"stdev","field":"v","as":"sd"}],"groupby":["t","c"]},{"calculate":"datum.m-datum.sd","as":"lo"},{"calculate":"datum.m+datum.sd","as":"hi"}],"mark":{"type":"rule","strokeWidth":2,"color":"#000","clip":true},"encoding":{"x":{"field":"t","type":"nominal","title":null,"scale":{"domain":["3h","8h","24h"],"paddingInner":0,"paddingOuter":0.028,"align":1},"axis":{"gridOpacity":{"condition":{"test":"datum.value === '3h'","value":0},"value":1}}},"xOffset":{"field":"c","type":"nominal","scale":{"domain":["LC Control","LC Loaded","KO Control","KO Loaded"],"paddingInner":0,"paddingOuter":0.2}},"y":{"field":"lo","type":"quantitative","scale":{"domain":[0,0.1],"nice":false,"zero":false},"axis":{"title":"Relative Expression","labelOverlap":false,"tickCount":100,"values":[0,0.01,0.02,0.03,0.04,0.05,0.06,0.07,0.08,0.09,0.1],"labelExpr":"round(datum.value*100)%2==0 ? format(datum.value,'.2f') : ''","tickSize":{"condition":{"test":"round(datum.value*100)%2==0","value":6},"value":3}}},"y2":{"field":"hi"}}},
{"data":{"name":"p2"},"transform":[{"aggregate":[{"op":"mean","field":"v","as":"m"},{"op":"stdev","field":"v","as":"sd"}],"groupby":["t","c"]},{"calculate":"datum.m-datum.sd","as":"lo"},{"calculate":"datum.m+datum.sd","as":"hi"},{"fold":["lo","hi"],"as":["k","cv"]}],"mark":{"type":"tick","orient":"horizontal","size":7,"thickness":2,"color":"#000","clip":true},"encoding":{"x":{"field":"t","type":"nominal","scale":{"domain":["3h","8h","24h"],"paddingInner":0,"paddingOuter":0.028,"align":1}},"xOffset":{"field":"c","type":"nominal","scale":{"domain":["LC Control","LC Loaded","KO Control","KO Loaded"],"paddingInner":0,"paddingOuter":0.2}},"y":{"field":"cv","type":"quantitative","scale":{"domain":[0,0.1],"nice":false,"zero":false}}}},
{"data":{"name":"p2"},"transform":[{"aggregate":[{"op":"mean","field":"v","as":"m"}],"groupby":["t","c"]}],"mark":{"type":"tick","orient":"horizontal","size":20,"thickness":2,"color":"#000"},"encoding":{"x":{"field":"t","type":"nominal","scale":{"domain":["3h","8h","24h"],"paddingInner":0,"paddingOuter":0.028,"align":1}},"xOffset":{"field":"c","type":"nominal","scale":{"domain":["LC Control","LC Loaded","KO Control","KO Loaded"],"paddingInner":0,"paddingOuter":0.2}},"y":{"field":"m","type":"quantitative","scale":{"domain":[0,0.1],"nice":false,"zero":false}}}},
{"data":{"name":"p2"},"transform":[{"filter":"indexof(datum.c,'Control')>=0"}],"mark":{"type":"point","filled":true,"size":22,"strokeWidth":1,"opacity":1},"encoding":{"x":{"field":"t","type":"nominal","scale":{"domain":["3h","8h","24h"],"paddingInner":0,"paddingOuter":0.028,"align":1}},"xOffset":{"field":"c","type":"nominal","scale":{"domain":["LC Control","LC Loaded","KO Control","KO Loaded"],"paddingInner":0,"paddingOuter":0.2}},"y":{"field":"v","type":"quantitative","scale":{"domain":[0,0.1],"nice":false,"zero":false}},"shape":{"field":"c","type":"nominal","scale":{"domain":["LC Control","KO Control","LC Loaded","KO Loaded"],"range":["square","triangle-up","square","triangle-up"]},"legend":{"title":null,"orient":"none","legendX":17,"legendY":36,"strokeColor":"#000","padding":4,"symbolSize":45,"symbolStrokeWidth":1,"labelFontSize":10,"labelColor":"#1a1a1a","rowPadding":1.5,"labelOffset":3}},"fill":{"field":"c","type":"nominal","scale":{"domain":["LC Control","KO Control","LC Loaded","KO Loaded"],"range":["#b0b0b0","#c6c6c6","#000000","#000000"]},"legend":{"title":null,"orient":"none","legendX":17,"legendY":36,"strokeColor":"#000","padding":4,"symbolSize":45,"symbolStrokeWidth":1,"labelFontSize":10,"labelColor":"#1a1a1a","rowPadding":1.5,"labelOffset":3}},"stroke":{"field":"c","type":"nominal","scale":{"domain":["LC Control","KO Control","LC Loaded","KO Loaded"],"range":["#6b6b6b","#7a7a7a","#000000","#000000"]},"legend":{"title":null,"orient":"none","legendX":17,"legendY":36,"strokeColor":"#000","padding":4,"symbolSize":45,"symbolStrokeWidth":1,"labelFontSize":10,"labelColor":"#1a1a1a","rowPadding":1.5,"labelOffset":3}}}},
{"data":{"name":"p2"},"transform":[{"filter":"indexof(datum.c,'Loaded')>=0"}],"mark":{"type":"point","filled":true,"size":9,"strokeWidth":0.8,"opacity":1},"encoding":{"x":{"field":"t","type":"nominal","scale":{"domain":["3h","8h","24h"],"paddingInner":0,"paddingOuter":0.028,"align":1}},"xOffset":{"field":"c","type":"nominal","scale":{"domain":["LC Control","LC Loaded","KO Control","KO Loaded"],"paddingInner":0,"paddingOuter":0.2}},"y":{"field":"v","type":"quantitative","scale":{"domain":[0,0.1],"nice":false,"zero":false}},"shape":{"field":"c","type":"nominal","scale":{"domain":["LC Control","KO Control","LC Loaded","KO Loaded"],"range":["square","triangle-up","square","triangle-up"]},"legend":{"title":null,"orient":"none","legendX":17,"legendY":36,"strokeColor":"#000","padding":4,"symbolSize":45,"symbolStrokeWidth":1,"labelFontSize":10,"labelColor":"#1a1a1a","rowPadding":1.5,"labelOffset":3}},"fill":{"field":"c","type":"nominal","scale":{"domain":["LC Control","KO Control","LC Loaded","KO Loaded"],"range":["#b0b0b0","#c6c6c6","#000000","#000000"]},"legend":{"title":null,"orient":"none","legendX":17,"legendY":36,"strokeColor":"#000","padding":4,"symbolSize":45,"symbolStrokeWidth":1,"labelFontSize":10,"labelColor":"#1a1a1a","rowPadding":1.5,"labelOffset":3}},"stroke":{"field":"c","type":"nominal","scale":{"domain":["LC Control","KO Control","LC Loaded","KO Loaded"],"range":["#6b6b6b","#7a7a7a","#000000","#000000"]},"legend":{"title":null,"orient":"none","legendX":17,"legendY":36,"strokeColor":"#000","padding":4,"symbolSize":45,"symbolStrokeWidth":1,"labelFontSize":10,"labelColor":"#1a1a1a","rowPadding":1.5,"labelOffset":3}}}},
{"data":{"name":"cats4"},"mark":{"type":"tick","orient":"vertical","size":5,"thickness":1.5,"yOffset":3.5,"color":"#000"},"encoding":{"x":{"field":"t","type":"nominal","scale":{"domain":["3h","8h","24h"],"paddingInner":0,"paddingOuter":0.028,"align":1}},"xOffset":{"field":"c","type":"nominal","scale":{"domain":["LC Control","LC Loaded","KO Control","KO Loaded"],"paddingInner":0,"paddingOuter":0.2}},"y":{"datum":0,"type":"quantitative","scale":{"domain":[0,0.1],"nice":false,"zero":false}}}},
{"data":{"name":"cats4"},"transform":[{"filter":"datum.lab != ''"}],"mark":{"type":"text","dx":10.2,"dy":14,"fontSize":11,"baseline":"middle","color":"#1a1a1a"},"encoding":{"x":{"field":"t","type":"nominal","scale":{"domain":["3h","8h","24h"],"paddingInner":0,"paddingOuter":0.028,"align":1}},"xOffset":{"field":"c","type":"nominal","scale":{"domain":["LC Control","LC Loaded","KO Control","KO Loaded"],"paddingInner":0,"paddingOuter":0.2}},"y":{"datum":0,"type":"quantitative","scale":{"domain":[0,0.1],"nice":false,"zero":false}},"text":{"field":"lab"}}},
{"data":{"name":"times"},"mark":{"type":"tick","orient":"horizontal","size":82,"thickness":1.2,"yOffset":22,"color":"#000"},"encoding":{"x":{"field":"t","type":"nominal","scale":{"domain":["3h","8h","24h"],"paddingInner":0,"paddingOuter":0.028,"align":1}},"y":{"datum":0,"type":"quantitative","scale":{"domain":[0,0.1],"nice":false,"zero":false}}}},
{"data":{"name":"times"},"mark":{"type":"tick","orient":"vertical","size":4,"thickness":1.2,"yOffset":20,"color":"#000"},"encoding":{"x":{"field":"t","type":"nominal","bandPosition":0.047,"scale":{"domain":["3h","8h","24h"],"paddingInner":0,"paddingOuter":0.028,"align":1}},"y":{"datum":0,"type":"quantitative","scale":{"domain":[0,0.1],"nice":false,"zero":false}}}},
{"data":{"name":"times"},"mark":{"type":"tick","orient":"vertical","size":4,"thickness":1.2,"yOffset":20,"color":"#000"},"encoding":{"x":{"field":"t","type":"nominal","bandPosition":0.953,"scale":{"domain":["3h","8h","24h"],"paddingInner":0,"paddingOuter":0.028,"align":1}},"y":{"datum":0,"type":"quantitative","scale":{"domain":[0,0.1],"nice":false,"zero":false}}}},
{"data":{"name":"times"},"mark":{"type":"text","dy":32,"fontSize":11.5,"fontWeight":"bold","baseline":"middle","color":"#1a1a1a"},"encoding":{"x":{"field":"t","type":"nominal","scale":{"domain":["3h","8h","24h"],"paddingInner":0,"paddingOuter":0.028,"align":1}},"y":{"datum":0,"type":"quantitative","scale":{"domain":[0,0.1],"nice":false,"zero":false}},"text":{"field":"t"}}},
{"data":{"values":[{"t":"3h","g":"Lef1"}]},"mark":{"type":"text","align":"left","baseline":"top","dx":10,"dy":6,"fontSize":17,"fontWeight":"bold","fontStyle":"italic","color":"#000"},"encoding":{"x":{"field":"t","type":"nominal","bandPosition":0,"scale":{"domain":["3h","8h","24h"],"paddingInner":0,"paddingOuter":0.028,"align":1}},"y":{"datum":0.1,"type":"quantitative","scale":{"domain":[0,0.1],"nice":false,"zero":false}},"text":{"field":"g"}}},
{"data":{"values":[{"t":"8h","g":"52 Week old"}]},"mark":{"type":"text","baseline":"alphabetic","dx":3,"dy":-8,"fontSize":20,"fontWeight":"bold","color":"#111"},"encoding":{"x":{"field":"t","type":"nominal","scale":{"domain":["3h","8h","24h"],"paddingInner":0,"paddingOuter":0.028,"align":1}},"y":{"datum":0.1,"type":"quantitative","scale":{"domain":[0,0.1],"nice":false,"zero":false}},"text":{"field":"g"}}},
{"data":{"name":"s2"},"mark":{"type":"line","color":"#000","strokeWidth":1.2},"encoding":{"x":{"field":"t","type":"nominal","scale":{"domain":["3h","8h","24h"],"paddingInner":0,"paddingOuter":0.028,"align":1}},"xOffset":{"field":"c","type":"nominal","scale":{"domain":["LC Control","LC Loaded","KO Control","KO Loaded"],"paddingInner":0,"paddingOuter":0.2}},"y":{"field":"v","type":"quantitative","scale":{"domain":[0,0.1],"nice":false,"zero":false}},"detail":{"field":"b","type":"nominal"},"order":{"field":"o","type":"quantitative"}}},
{"data":{"name":"s2"},"mark":{"type":"rule","color":"#000","strokeWidth":1.2},"encoding":{"x":{"field":"t","type":"nominal","scale":{"domain":["3h","8h","24h"],"paddingInner":0,"paddingOuter":0.028,"align":1}},"xOffset":{"field":"c","type":"nominal","scale":{"domain":["LC Control","LC Loaded","KO Control","KO Loaded"],"paddingInner":0,"paddingOuter":0.2}},"y":{"field":"v","type":"quantitative","scale":{"domain":[0,0.1],"nice":false,"zero":false}},"y2":{"field":"lo"}}},
{"data":{"name":"k2"},"mark":{"type":"text","fontSize":13,"baseline":"alphabetic","dy":-1.5,"color":"#1a1a1a"},"encoding":{"x":{"field":"t","type":"nominal","scale":{"domain":["3h","8h","24h"],"paddingInner":0,"paddingOuter":0.028,"align":1}},"xOffset":{"field":"c","type":"nominal","scale":{"domain":["LC Control","LC Loaded","KO Control","KO Loaded"],"paddingInner":0,"paddingOuter":0.2}},"y":{"field":"v","type":"quantitative","scale":{"domain":[0,0.1],"nice":false,"zero":false}},"text":{"field":"s"}}}
]},
{"width":274,"height":208,"layer":[
{"data":{"name":"p3"},"transform":[{"aggregate":[{"op":"mean","field":"v","as":"m"},{"op":"stdev","field":"v","as":"sd"}],"groupby":["t","c"]},{"calculate":"datum.m-datum.sd","as":"lo"},{"calculate":"datum.m+datum.sd","as":"hi"}],"mark":{"type":"rule","strokeWidth":2,"color":"#000","clip":true},"encoding":{"x":{"field":"t","type":"nominal","title":null,"scale":{"domain":["3h","8h","24h"],"paddingInner":0,"paddingOuter":0.028,"align":1},"axis":{"gridOpacity":{"condition":{"test":"datum.value === '3h'","value":0},"value":1}}},"xOffset":{"field":"c","type":"nominal","scale":{"domain":["LC Control","LC Loaded","KO Control","KO Loaded"],"paddingInner":0,"paddingOuter":0.2}},"y":{"field":"lo","type":"quantitative","scale":{"domain":[-0.00052,0.006],"nice":false,"zero":false},"axis":{"title":"Relative Expression","labelOverlap":false,"tickCount":100,"values":[0,0.0005,0.001,0.0015,0.002,0.0025,0.003,0.0035,0.004,0.0045,0.005,0.0055,0.006],"labelExpr":"round(datum.value*2000)%2==0 ? format(datum.value,'.3f') : ''","tickSize":{"condition":{"test":"round(datum.value*2000)%2==0","value":6},"value":3}}},"y2":{"field":"hi"}}},
{"data":{"name":"p3"},"transform":[{"aggregate":[{"op":"mean","field":"v","as":"m"},{"op":"stdev","field":"v","as":"sd"}],"groupby":["t","c"]},{"calculate":"datum.m-datum.sd","as":"lo"},{"calculate":"datum.m+datum.sd","as":"hi"},{"fold":["lo","hi"],"as":["k","cv"]}],"mark":{"type":"tick","orient":"horizontal","size":7,"thickness":2,"color":"#000","clip":true},"encoding":{"x":{"field":"t","type":"nominal","scale":{"domain":["3h","8h","24h"],"paddingInner":0,"paddingOuter":0.028,"align":1}},"xOffset":{"field":"c","type":"nominal","scale":{"domain":["LC Control","LC Loaded","KO Control","KO Loaded"],"paddingInner":0,"paddingOuter":0.2}},"y":{"field":"cv","type":"quantitative","scale":{"domain":[-0.00052,0.006],"nice":false,"zero":false}}}},
{"data":{"name":"p3"},"transform":[{"aggregate":[{"op":"mean","field":"v","as":"m"}],"groupby":["t","c"]}],"mark":{"type":"tick","orient":"horizontal","size":20,"thickness":2,"color":"#000"},"encoding":{"x":{"field":"t","type":"nominal","scale":{"domain":["3h","8h","24h"],"paddingInner":0,"paddingOuter":0.028,"align":1}},"xOffset":{"field":"c","type":"nominal","scale":{"domain":["LC Control","LC Loaded","KO Control","KO Loaded"],"paddingInner":0,"paddingOuter":0.2}},"y":{"field":"m","type":"quantitative","scale":{"domain":[-0.00052,0.006],"nice":false,"zero":false}}}},
{"data":{"name":"p3"},"transform":[{"filter":"indexof(datum.c,'Control')>=0"}],"mark":{"type":"point","filled":true,"size":22,"strokeWidth":1,"opacity":1},"encoding":{"x":{"field":"t","type":"nominal","scale":{"domain":["3h","8h","24h"],"paddingInner":0,"paddingOuter":0.028,"align":1}},"xOffset":{"field":"c","type":"nominal","scale":{"domain":["LC Control","LC Loaded","KO Control","KO Loaded"],"paddingInner":0,"paddingOuter":0.2}},"y":{"field":"v","type":"quantitative","scale":{"domain":[-0.00052,0.006],"nice":false,"zero":false}},"shape":{"field":"c","type":"nominal","scale":{"domain":["LC Control","KO Control","LC Loaded","KO Loaded"],"range":["square","triangle-up","square","triangle-up"]},"legend":{"title":null,"orient":"none","legendX":17,"legendY":36,"strokeColor":"#000","padding":4,"symbolSize":45,"symbolStrokeWidth":1,"labelFontSize":10,"labelColor":"#1a1a1a","rowPadding":1.5,"labelOffset":3}},"fill":{"field":"c","type":"nominal","scale":{"domain":["LC Control","KO Control","LC Loaded","KO Loaded"],"range":["#b0b0b0","#c6c6c6","#000000","#000000"]},"legend":{"title":null,"orient":"none","legendX":17,"legendY":36,"strokeColor":"#000","padding":4,"symbolSize":45,"symbolStrokeWidth":1,"labelFontSize":10,"labelColor":"#1a1a1a","rowPadding":1.5,"labelOffset":3}},"stroke":{"field":"c","type":"nominal","scale":{"domain":["LC Control","KO Control","LC Loaded","KO Loaded"],"range":["#6b6b6b","#7a7a7a","#000000","#000000"]},"legend":{"title":null,"orient":"none","legendX":17,"legendY":36,"strokeColor":"#000","padding":4,"symbolSize":45,"symbolStrokeWidth":1,"labelFontSize":10,"labelColor":"#1a1a1a","rowPadding":1.5,"labelOffset":3}}}},
{"data":{"name":"p3"},"transform":[{"filter":"indexof(datum.c,'Loaded')>=0"}],"mark":{"type":"point","filled":true,"size":9,"strokeWidth":0.8,"opacity":1},"encoding":{"x":{"field":"t","type":"nominal","scale":{"domain":["3h","8h","24h"],"paddingInner":0,"paddingOuter":0.028,"align":1}},"xOffset":{"field":"c","type":"nominal","scale":{"domain":["LC Control","LC Loaded","KO Control","KO Loaded"],"paddingInner":0,"paddingOuter":0.2}},"y":{"field":"v","type":"quantitative","scale":{"domain":[-0.00052,0.006],"nice":false,"zero":false}},"shape":{"field":"c","type":"nominal","scale":{"domain":["LC Control","KO Control","LC Loaded","KO Loaded"],"range":["square","triangle-up","square","triangle-up"]},"legend":{"title":null,"orient":"none","legendX":17,"legendY":36,"strokeColor":"#000","padding":4,"symbolSize":45,"symbolStrokeWidth":1,"labelFontSize":10,"labelColor":"#1a1a1a","rowPadding":1.5,"labelOffset":3}},"fill":{"field":"c","type":"nominal","scale":{"domain":["LC Control","KO Control","LC Loaded","KO Loaded"],"range":["#b0b0b0","#c6c6c6","#000000","#000000"]},"legend":{"title":null,"orient":"none","legendX":17,"legendY":36,"strokeColor":"#000","padding":4,"symbolSize":45,"symbolStrokeWidth":1,"labelFontSize":10,"labelColor":"#1a1a1a","rowPadding":1.5,"labelOffset":3}},"stroke":{"field":"c","type":"nominal","scale":{"domain":["LC Control","KO Control","LC Loaded","KO Loaded"],"range":["#6b6b6b","#7a7a7a","#000000","#000000"]},"legend":{"title":null,"orient":"none","legendX":17,"legendY":36,"strokeColor":"#000","padding":4,"symbolSize":45,"symbolStrokeWidth":1,"labelFontSize":10,"labelColor":"#1a1a1a","rowPadding":1.5,"labelOffset":3}}}},
{"data":{"name":"cats4"},"mark":{"type":"tick","orient":"vertical","size":5,"thickness":1.5,"yOffset":3.5,"color":"#000"},"encoding":{"x":{"field":"t","type":"nominal","scale":{"domain":["3h","8h","24h"],"paddingInner":0,"paddingOuter":0.028,"align":1}},"xOffset":{"field":"c","type":"nominal","scale":{"domain":["LC Control","LC Loaded","KO Control","KO Loaded"],"paddingInner":0,"paddingOuter":0.2}},"y":{"datum":-0.00052,"type":"quantitative","scale":{"domain":[-0.00052,0.006],"nice":false,"zero":false}}}},
{"data":{"name":"cats4"},"transform":[{"filter":"datum.lab != ''"}],"mark":{"type":"text","dx":10.2,"dy":14,"fontSize":11,"baseline":"middle","color":"#1a1a1a"},"encoding":{"x":{"field":"t","type":"nominal","scale":{"domain":["3h","8h","24h"],"paddingInner":0,"paddingOuter":0.028,"align":1}},"xOffset":{"field":"c","type":"nominal","scale":{"domain":["LC Control","LC Loaded","KO Control","KO Loaded"],"paddingInner":0,"paddingOuter":0.2}},"y":{"datum":-0.00052,"type":"quantitative","scale":{"domain":[-0.00052,0.006],"nice":false,"zero":false}},"text":{"field":"lab"}}},
{"data":{"name":"times"},"mark":{"type":"tick","orient":"horizontal","size":82,"thickness":1.2,"yOffset":22,"color":"#000"},"encoding":{"x":{"field":"t","type":"nominal","scale":{"domain":["3h","8h","24h"],"paddingInner":0,"paddingOuter":0.028,"align":1}},"y":{"datum":-0.00052,"type":"quantitative","scale":{"domain":[-0.00052,0.006],"nice":false,"zero":false}}}},
{"data":{"name":"times"},"mark":{"type":"tick","orient":"vertical","size":4,"thickness":1.2,"yOffset":20,"color":"#000"},"encoding":{"x":{"field":"t","type":"nominal","bandPosition":0.045,"scale":{"domain":["3h","8h","24h"],"paddingInner":0,"paddingOuter":0.028,"align":1}},"y":{"datum":-0.00052,"type":"quantitative","scale":{"domain":[-0.00052,0.006],"nice":false,"zero":false}}}},
{"data":{"name":"times"},"mark":{"type":"tick","orient":"vertical","size":4,"thickness":1.2,"yOffset":20,"color":"#000"},"encoding":{"x":{"field":"t","type":"nominal","bandPosition":0.955,"scale":{"domain":["3h","8h","24h"],"paddingInner":0,"paddingOuter":0.028,"align":1}},"y":{"datum":-0.00052,"type":"quantitative","scale":{"domain":[-0.00052,0.006],"nice":false,"zero":false}}}},
{"data":{"name":"times"},"mark":{"type":"text","dy":32,"fontSize":11.5,"fontWeight":"bold","baseline":"middle","color":"#1a1a1a"},"encoding":{"x":{"field":"t","type":"nominal","scale":{"domain":["3h","8h","24h"],"paddingInner":0,"paddingOuter":0.028,"align":1}},"y":{"datum":-0.00052,"type":"quantitative","scale":{"domain":[-0.00052,0.006],"nice":false,"zero":false}},"text":{"field":"t"}}},
{"data":{"values":[{"t":"3h","g":"Axin2"}]},"mark":{"type":"text","align":"left","baseline":"top","dx":14,"dy":5,"fontSize":17,"fontWeight":"bold","fontStyle":"italic","color":"#000"},"encoding":{"x":{"field":"t","type":"nominal","bandPosition":0,"scale":{"domain":["3h","8h","24h"],"paddingInner":0,"paddingOuter":0.028,"align":1}},"y":{"datum":0.006,"type":"quantitative","scale":{"domain":[-0.00052,0.006],"nice":false,"zero":false}},"text":{"field":"g"}}}
]},
{"width":276,"height":208,"layer":[
{"data":{"name":"p4"},"transform":[{"aggregate":[{"op":"mean","field":"v","as":"m"},{"op":"stdev","field":"v","as":"sd"}],"groupby":["t","c"]},{"calculate":"datum.m-datum.sd","as":"lo"},{"calculate":"datum.m+datum.sd","as":"hi"}],"mark":{"type":"rule","strokeWidth":2,"color":"#000","clip":true},"encoding":{"x":{"field":"t","type":"nominal","title":null,"scale":{"domain":["3h","8h","24h"],"paddingInner":0,"paddingOuter":0.028,"align":1},"axis":{"gridOpacity":{"condition":{"test":"datum.value === '3h'","value":0},"value":1}}},"xOffset":{"field":"c","type":"nominal","scale":{"domain":["LC Control","LC Loaded","KO Control","KO Loaded"],"paddingInner":0,"paddingOuter":0.2}},"y":{"field":"lo","type":"quantitative","scale":{"domain":[0,0.11],"nice":false,"zero":false},"axis":{"title":"Relative Expression","labelOverlap":false,"tickCount":100,"values":[0,0.01,0.02,0.03,0.04,0.05,0.06,0.07,0.08,0.09,0.1,0.11],"labelExpr":"round(datum.value*100)%2==0 ? format(datum.value,'.2f') : ''","tickSize":{"condition":{"test":"round(datum.value*100)%2==0","value":6},"value":3}}},"y2":{"field":"hi"}}},
{"data":{"name":"p4"},"transform":[{"aggregate":[{"op":"mean","field":"v","as":"m"},{"op":"stdev","field":"v","as":"sd"}],"groupby":["t","c"]},{"calculate":"datum.m-datum.sd","as":"lo"},{"calculate":"datum.m+datum.sd","as":"hi"},{"fold":["lo","hi"],"as":["k","cv"]}],"mark":{"type":"tick","orient":"horizontal","size":7,"thickness":2,"color":"#000","clip":true},"encoding":{"x":{"field":"t","type":"nominal","scale":{"domain":["3h","8h","24h"],"paddingInner":0,"paddingOuter":0.028,"align":1}},"xOffset":{"field":"c","type":"nominal","scale":{"domain":["LC Control","LC Loaded","KO Control","KO Loaded"],"paddingInner":0,"paddingOuter":0.2}},"y":{"field":"cv","type":"quantitative","scale":{"domain":[0,0.11],"nice":false,"zero":false}}}},
{"data":{"name":"p4"},"transform":[{"aggregate":[{"op":"mean","field":"v","as":"m"}],"groupby":["t","c"]}],"mark":{"type":"tick","orient":"horizontal","size":20,"thickness":2,"color":"#000"},"encoding":{"x":{"field":"t","type":"nominal","scale":{"domain":["3h","8h","24h"],"paddingInner":0,"paddingOuter":0.028,"align":1}},"xOffset":{"field":"c","type":"nominal","scale":{"domain":["LC Control","LC Loaded","KO Control","KO Loaded"],"paddingInner":0,"paddingOuter":0.2}},"y":{"field":"m","type":"quantitative","scale":{"domain":[0,0.11],"nice":false,"zero":false}}}},
{"data":{"name":"p4"},"transform":[{"filter":"indexof(datum.c,'Control')>=0"}],"mark":{"type":"point","filled":true,"size":22,"strokeWidth":1,"opacity":1},"encoding":{"x":{"field":"t","type":"nominal","scale":{"domain":["3h","8h","24h"],"paddingInner":0,"paddingOuter":0.028,"align":1}},"xOffset":{"field":"c","type":"nominal","scale":{"domain":["LC Control","LC Loaded","KO Control","KO Loaded"],"paddingInner":0,"paddingOuter":0.2}},"y":{"field":"v","type":"quantitative","scale":{"domain":[0,0.11],"nice":false,"zero":false}},"shape":{"field":"c","type":"nominal","scale":{"domain":["LC Control","KO Control","LC Loaded","KO Loaded"],"range":["square","triangle-up","square","triangle-up"]},"legend":null},"fill":{"field":"c","type":"nominal","scale":{"domain":["LC Control","KO Control","LC Loaded","KO Loaded"],"range":["#b0b0b0","#c6c6c6","#000000","#000000"]},"legend":null},"stroke":{"field":"c","type":"nominal","scale":{"domain":["LC Control","KO Control","LC Loaded","KO Loaded"],"range":["#6b6b6b","#7a7a7a","#000000","#000000"]},"legend":null}}},
{"data":{"name":"p4"},"transform":[{"filter":"indexof(datum.c,'Loaded')>=0"}],"mark":{"type":"point","filled":true,"size":9,"strokeWidth":0.8,"opacity":1},"encoding":{"x":{"field":"t","type":"nominal","scale":{"domain":["3h","8h","24h"],"paddingInner":0,"paddingOuter":0.028,"align":1}},"xOffset":{"field":"c","type":"nominal","scale":{"domain":["LC Control","LC Loaded","KO Control","KO Loaded"],"paddingInner":0,"paddingOuter":0.2}},"y":{"field":"v","type":"quantitative","scale":{"domain":[0,0.11],"nice":false,"zero":false}},"shape":{"field":"c","type":"nominal","scale":{"domain":["LC Control","KO Control","LC Loaded","KO Loaded"],"range":["square","triangle-up","square","triangle-up"]},"legend":null},"fill":{"field":"c","type":"nominal","scale":{"domain":["LC Control","KO Control","LC Loaded","KO Loaded"],"range":["#b0b0b0","#c6c6c6","#000000","#000000"]},"legend":null},"stroke":{"field":"c","type":"nominal","scale":{"domain":["LC Control","KO Control","LC Loaded","KO Loaded"],"range":["#6b6b6b","#7a7a7a","#000000","#000000"]},"legend":null}}},
{"data":{"name":"cats4"},"mark":{"type":"tick","orient":"vertical","size":5,"thickness":1.5,"yOffset":3.5,"color":"#000"},"encoding":{"x":{"field":"t","type":"nominal","scale":{"domain":["3h","8h","24h"],"paddingInner":0,"paddingOuter":0.028,"align":1}},"xOffset":{"field":"c","type":"nominal","scale":{"domain":["LC Control","LC Loaded","KO Control","KO Loaded"],"paddingInner":0,"paddingOuter":0.2}},"y":{"datum":0,"type":"quantitative","scale":{"domain":[0,0.11],"nice":false,"zero":false}}}},
{"data":{"name":"cats4"},"transform":[{"filter":"datum.lab != ''"}],"mark":{"type":"text","dx":10.2,"dy":14,"fontSize":11,"baseline":"middle","color":"#1a1a1a"},"encoding":{"x":{"field":"t","type":"nominal","scale":{"domain":["3h","8h","24h"],"paddingInner":0,"paddingOuter":0.028,"align":1}},"xOffset":{"field":"c","type":"nominal","scale":{"domain":["LC Control","LC Loaded","KO Control","KO Loaded"],"paddingInner":0,"paddingOuter":0.2}},"y":{"datum":0,"type":"quantitative","scale":{"domain":[0,0.11],"nice":false,"zero":false}},"text":{"field":"lab"}}},
{"data":{"name":"times"},"mark":{"type":"tick","orient":"horizontal","size":82,"thickness":1.2,"yOffset":22,"color":"#000"},"encoding":{"x":{"field":"t","type":"nominal","scale":{"domain":["3h","8h","24h"],"paddingInner":0,"paddingOuter":0.028,"align":1}},"y":{"datum":0,"type":"quantitative","scale":{"domain":[0,0.11],"nice":false,"zero":false}}}},
{"data":{"name":"times"},"mark":{"type":"tick","orient":"vertical","size":4,"thickness":1.2,"yOffset":20,"color":"#000"},"encoding":{"x":{"field":"t","type":"nominal","bandPosition":0.047,"scale":{"domain":["3h","8h","24h"],"paddingInner":0,"paddingOuter":0.028,"align":1}},"y":{"datum":0,"type":"quantitative","scale":{"domain":[0,0.11],"nice":false,"zero":false}}}},
{"data":{"name":"times"},"mark":{"type":"tick","orient":"vertical","size":4,"thickness":1.2,"yOffset":20,"color":"#000"},"encoding":{"x":{"field":"t","type":"nominal","bandPosition":0.953,"scale":{"domain":["3h","8h","24h"],"paddingInner":0,"paddingOuter":0.028,"align":1}},"y":{"datum":0,"type":"quantitative","scale":{"domain":[0,0.11],"nice":false,"zero":false}}}},
{"data":{"name":"times"},"mark":{"type":"text","dy":32,"fontSize":11.5,"fontWeight":"bold","baseline":"middle","color":"#1a1a1a"},"encoding":{"x":{"field":"t","type":"nominal","scale":{"domain":["3h","8h","24h"],"paddingInner":0,"paddingOuter":0.028,"align":1}},"y":{"datum":0,"type":"quantitative","scale":{"domain":[0,0.11],"nice":false,"zero":false}},"text":{"field":"t"}}},
{"data":{"values":[{"t":"3h","g":"Axin2"}]},"mark":{"type":"text","align":"left","baseline":"top","dx":10,"dy":7,"fontSize":17,"fontWeight":"bold","fontStyle":"italic","color":"#000"},"encoding":{"x":{"field":"t","type":"nominal","bandPosition":0,"scale":{"domain":["3h","8h","24h"],"paddingInner":0,"paddingOuter":0.028,"align":1}},"y":{"datum":0.11,"type":"quantitative","scale":{"domain":[0,0.11],"nice":false,"zero":false}},"text":{"field":"g"}}}
]},
{"width":274,"height":208,"layer":[
{"data":{"name":"p5"},"transform":[{"aggregate":[{"op":"mean","field":"v","as":"m"},{"op":"stdev","field":"v","as":"sd"}],"groupby":["t","c"]},{"calculate":"datum.m-datum.sd","as":"lo"},{"calculate":"datum.m+datum.sd","as":"hi"}],"mark":{"type":"rule","strokeWidth":2,"color":"#000","clip":true},"encoding":{"x":{"field":"t","type":"nominal","title":null,"scale":{"domain":["3h","8h","24h"],"paddingInner":0,"paddingOuter":0.028,"align":1},"axis":{"gridOpacity":{"condition":{"test":"datum.value === '3h'","value":0},"value":1}}},"xOffset":{"field":"c","type":"nominal","scale":{"domain":["LC Control","LC Loaded","KO Control","KO Loaded"],"paddingInner":0,"paddingOuter":0.2}},"y":{"field":"lo","type":"quantitative","scale":{"domain":[0,0.018],"nice":false,"zero":false},"axis":{"title":"Relative Expression","labelOverlap":false,"tickCount":100,"values":[0,0.001,0.002,0.003,0.004,0.005,0.006,0.007,0.008,0.009,0.01,0.011,0.012,0.013,0.014,0.015,0.016,0.017,0.018],"labelExpr":"round(datum.value*1000)%2==0 ? format(datum.value,'.3f') : ''","tickSize":{"condition":{"test":"round(datum.value*1000)%2==0","value":6},"value":3}}},"y2":{"field":"hi"}}},
{"data":{"name":"p5"},"transform":[{"aggregate":[{"op":"mean","field":"v","as":"m"},{"op":"stdev","field":"v","as":"sd"}],"groupby":["t","c"]},{"calculate":"datum.m-datum.sd","as":"lo"},{"calculate":"datum.m+datum.sd","as":"hi"},{"fold":["lo","hi"],"as":["k","cv"]}],"mark":{"type":"tick","orient":"horizontal","size":7,"thickness":2,"color":"#000","clip":true},"encoding":{"x":{"field":"t","type":"nominal","scale":{"domain":["3h","8h","24h"],"paddingInner":0,"paddingOuter":0.028,"align":1}},"xOffset":{"field":"c","type":"nominal","scale":{"domain":["LC Control","LC Loaded","KO Control","KO Loaded"],"paddingInner":0,"paddingOuter":0.2}},"y":{"field":"cv","type":"quantitative","scale":{"domain":[0,0.018],"nice":false,"zero":false}}}},
{"data":{"name":"p5"},"transform":[{"aggregate":[{"op":"mean","field":"v","as":"m"}],"groupby":["t","c"]}],"mark":{"type":"tick","orient":"horizontal","size":20,"thickness":2,"color":"#000"},"encoding":{"x":{"field":"t","type":"nominal","scale":{"domain":["3h","8h","24h"],"paddingInner":0,"paddingOuter":0.028,"align":1}},"xOffset":{"field":"c","type":"nominal","scale":{"domain":["LC Control","LC Loaded","KO Control","KO Loaded"],"paddingInner":0,"paddingOuter":0.2}},"y":{"field":"m","type":"quantitative","scale":{"domain":[0,0.018],"nice":false,"zero":false}}}},
{"data":{"name":"p5"},"transform":[{"filter":"indexof(datum.c,'Control')>=0"}],"mark":{"type":"point","filled":true,"size":22,"strokeWidth":1,"opacity":1},"encoding":{"x":{"field":"t","type":"nominal","scale":{"domain":["3h","8h","24h"],"paddingInner":0,"paddingOuter":0.028,"align":1}},"xOffset":{"field":"c","type":"nominal","scale":{"domain":["LC Control","LC Loaded","KO Control","KO Loaded"],"paddingInner":0,"paddingOuter":0.2}},"y":{"field":"v","type":"quantitative","scale":{"domain":[0,0.018],"nice":false,"zero":false}},"shape":{"field":"c","type":"nominal","scale":{"domain":["LC Control","KO Control","LC Loaded","KO Loaded"],"range":["square","triangle-up","square","triangle-up"]},"legend":{"title":null,"orient":"none","legendX":17,"legendY":32,"strokeColor":"#000","padding":4,"symbolSize":45,"symbolStrokeWidth":1,"labelFontSize":10,"labelColor":"#1a1a1a","rowPadding":1.5,"labelOffset":3}},"fill":{"field":"c","type":"nominal","scale":{"domain":["LC Control","KO Control","LC Loaded","KO Loaded"],"range":["#b0b0b0","#c6c6c6","#000000","#000000"]},"legend":{"title":null,"orient":"none","legendX":17,"legendY":32,"strokeColor":"#000","padding":4,"symbolSize":45,"symbolStrokeWidth":1,"labelFontSize":10,"labelColor":"#1a1a1a","rowPadding":1.5,"labelOffset":3}},"stroke":{"field":"c","type":"nominal","scale":{"domain":["LC Control","KO Control","LC Loaded","KO Loaded"],"range":["#6b6b6b","#7a7a7a","#000000","#000000"]},"legend":{"title":null,"orient":"none","legendX":17,"legendY":32,"strokeColor":"#000","padding":4,"symbolSize":45,"symbolStrokeWidth":1,"labelFontSize":10,"labelColor":"#1a1a1a","rowPadding":1.5,"labelOffset":3}}}},
{"data":{"name":"p5"},"transform":[{"filter":"indexof(datum.c,'Loaded')>=0"}],"mark":{"type":"point","filled":true,"size":9,"strokeWidth":0.8,"opacity":1},"encoding":{"x":{"field":"t","type":"nominal","scale":{"domain":["3h","8h","24h"],"paddingInner":0,"paddingOuter":0.028,"align":1}},"xOffset":{"field":"c","type":"nominal","scale":{"domain":["LC Control","LC Loaded","KO Control","KO Loaded"],"paddingInner":0,"paddingOuter":0.2}},"y":{"field":"v","type":"quantitative","scale":{"domain":[0,0.018],"nice":false,"zero":false}},"shape":{"field":"c","type":"nominal","scale":{"domain":["LC Control","KO Control","LC Loaded","KO Loaded"],"range":["square","triangle-up","square","triangle-up"]},"legend":{"title":null,"orient":"none","legendX":17,"legendY":32,"strokeColor":"#000","padding":4,"symbolSize":45,"symbolStrokeWidth":1,"labelFontSize":10,"labelColor":"#1a1a1a","rowPadding":1.5,"labelOffset":3}},"fill":{"field":"c","type":"nominal","scale":{"domain":["LC Control","KO Control","LC Loaded","KO Loaded"],"range":["#b0b0b0","#c6c6c6","#000000","#000000"]},"legend":{"title":null,"orient":"none","legendX":17,"legendY":32,"strokeColor":"#000","padding":4,"symbolSize":45,"symbolStrokeWidth":1,"labelFontSize":10,"labelColor":"#1a1a1a","rowPadding":1.5,"labelOffset":3}},"stroke":{"field":"c","type":"nominal","scale":{"domain":["LC Control","KO Control","LC Loaded","KO Loaded"],"range":["#6b6b6b","#7a7a7a","#000000","#000000"]},"legend":{"title":null,"orient":"none","legendX":17,"legendY":32,"strokeColor":"#000","padding":4,"symbolSize":45,"symbolStrokeWidth":1,"labelFontSize":10,"labelColor":"#1a1a1a","rowPadding":1.5,"labelOffset":3}}}},
{"data":{"name":"cats4"},"mark":{"type":"tick","orient":"vertical","size":5,"thickness":1.5,"yOffset":3.5,"color":"#000"},"encoding":{"x":{"field":"t","type":"nominal","scale":{"domain":["3h","8h","24h"],"paddingInner":0,"paddingOuter":0.028,"align":1}},"xOffset":{"field":"c","type":"nominal","scale":{"domain":["LC Control","LC Loaded","KO Control","KO Loaded"],"paddingInner":0,"paddingOuter":0.2}},"y":{"datum":0,"type":"quantitative","scale":{"domain":[0,0.018],"nice":false,"zero":false}}}},
{"data":{"name":"cats4"},"transform":[{"filter":"datum.lab != ''"}],"mark":{"type":"text","dx":10.2,"dy":14,"fontSize":11,"baseline":"middle","color":"#1a1a1a"},"encoding":{"x":{"field":"t","type":"nominal","scale":{"domain":["3h","8h","24h"],"paddingInner":0,"paddingOuter":0.028,"align":1}},"xOffset":{"field":"c","type":"nominal","scale":{"domain":["LC Control","LC Loaded","KO Control","KO Loaded"],"paddingInner":0,"paddingOuter":0.2}},"y":{"datum":0,"type":"quantitative","scale":{"domain":[0,0.018],"nice":false,"zero":false}},"text":{"field":"lab"}}},
{"data":{"name":"times"},"mark":{"type":"tick","orient":"horizontal","size":82,"thickness":1.2,"yOffset":22,"color":"#000"},"encoding":{"x":{"field":"t","type":"nominal","scale":{"domain":["3h","8h","24h"],"paddingInner":0,"paddingOuter":0.028,"align":1}},"y":{"datum":0,"type":"quantitative","scale":{"domain":[0,0.018],"nice":false,"zero":false}}}},
{"data":{"name":"times"},"mark":{"type":"tick","orient":"vertical","size":4,"thickness":1.2,"yOffset":20,"color":"#000"},"encoding":{"x":{"field":"t","type":"nominal","bandPosition":0.045,"scale":{"domain":["3h","8h","24h"],"paddingInner":0,"paddingOuter":0.028,"align":1}},"y":{"datum":0,"type":"quantitative","scale":{"domain":[0,0.018],"nice":false,"zero":false}}}},
{"data":{"name":"times"},"mark":{"type":"tick","orient":"vertical","size":4,"thickness":1.2,"yOffset":20,"color":"#000"},"encoding":{"x":{"field":"t","type":"nominal","bandPosition":0.955,"scale":{"domain":["3h","8h","24h"],"paddingInner":0,"paddingOuter":0.028,"align":1}},"y":{"datum":0,"type":"quantitative","scale":{"domain":[0,0.018],"nice":false,"zero":false}}}},
{"data":{"name":"times"},"mark":{"type":"text","dy":32,"fontSize":11.5,"fontWeight":"bold","baseline":"middle","color":"#1a1a1a"},"encoding":{"x":{"field":"t","type":"nominal","scale":{"domain":["3h","8h","24h"],"paddingInner":0,"paddingOuter":0.028,"align":1}},"y":{"datum":0,"type":"quantitative","scale":{"domain":[0,0.018],"nice":false,"zero":false}},"text":{"field":"t"}}},
{"data":{"values":[{"t":"3h","g":"Dkk1"}]},"mark":{"type":"text","align":"left","baseline":"top","dx":14,"dy":5,"fontSize":17,"fontWeight":"bold","fontStyle":"italic","color":"#000"},"encoding":{"x":{"field":"t","type":"nominal","bandPosition":0,"scale":{"domain":["3h","8h","24h"],"paddingInner":0,"paddingOuter":0.028,"align":1}},"y":{"datum":0.018,"type":"quantitative","scale":{"domain":[0,0.018],"nice":false,"zero":false}},"text":{"field":"g"}}},
{"data":{"name":"s5"},"mark":{"type":"line","color":"#000","strokeWidth":1.2},"encoding":{"x":{"field":"t","type":"nominal","scale":{"domain":["3h","8h","24h"],"paddingInner":0,"paddingOuter":0.028,"align":1}},"xOffset":{"field":"c","type":"nominal","scale":{"domain":["LC Control","LC Loaded","KO Control","KO Loaded"],"paddingInner":0,"paddingOuter":0.2}},"y":{"field":"v","type":"quantitative","scale":{"domain":[0,0.018],"nice":false,"zero":false}},"detail":{"field":"b","type":"nominal"},"order":{"field":"o","type":"quantitative"}}},
{"data":{"name":"s5"},"mark":{"type":"rule","color":"#000","strokeWidth":1.2},"encoding":{"x":{"field":"t","type":"nominal","scale":{"domain":["3h","8h","24h"],"paddingInner":0,"paddingOuter":0.028,"align":1}},"xOffset":{"field":"c","type":"nominal","scale":{"domain":["LC Control","LC Loaded","KO Control","KO Loaded"],"paddingInner":0,"paddingOuter":0.2}},"y":{"field":"v","type":"quantitative","scale":{"domain":[0,0.018],"nice":false,"zero":false}},"y2":{"field":"lo"}}},
{"data":{"name":"k5"},"transform":[{"filter":"datum.h==0"}],"mark":{"type":"text","fontSize":13,"baseline":"alphabetic","dy":-1.5,"color":"#1a1a1a"},"encoding":{"x":{"field":"t","type":"nominal","scale":{"domain":["3h","8h","24h"],"paddingInner":0,"paddingOuter":0.028,"align":1}},"xOffset":{"field":"c","type":"nominal","scale":{"domain":["LC Control","LC Loaded","KO Control","KO Loaded"],"paddingInner":0,"paddingOuter":0.2}},"y":{"field":"v","type":"quantitative","scale":{"domain":[0,0.018],"nice":false,"zero":false}},"text":{"field":"s"}}},
{"data":{"name":"k5"},"transform":[{"filter":"datum.h==1"}],"mark":{"type":"text","fontSize":13,"baseline":"alphabetic","dy":-1.5,"dx":10.2,"color":"#1a1a1a"},"encoding":{"x":{"field":"t","type":"nominal","scale":{"domain":["3h","8h","24h"],"paddingInner":0,"paddingOuter":0.028,"align":1}},"xOffset":{"field":"c","type":"nominal","scale":{"domain":["LC Control","LC Loaded","KO Control","KO Loaded"],"paddingInner":0,"paddingOuter":0.2}},"y":{"field":"v","type":"quantitative","scale":{"domain":[0,0.018],"nice":false,"zero":false}},"text":{"field":"s"}}}
]},
{"width":276,"height":208,"layer":[
{"data":{"name":"p6"},"transform":[{"aggregate":[{"op":"mean","field":"v","as":"m"},{"op":"stdev","field":"v","as":"sd"}],"groupby":["t","c"]},{"calculate":"datum.m-datum.sd","as":"lo"},{"calculate":"datum.m+datum.sd","as":"hi"}],"mark":{"type":"rule","strokeWidth":2,"color":"#000","clip":true},"encoding":{"x":{"field":"t","type":"nominal","title":null,"scale":{"domain":["3h","8h","24h"],"paddingInner":0,"paddingOuter":0.028,"align":1},"axis":{"gridOpacity":{"condition":{"test":"datum.value === '3h'","value":0},"value":1}}},"xOffset":{"field":"c","type":"nominal","scale":{"domain":["LC Control","LC Loaded","KO Control","KO Loaded"],"paddingInner":0,"paddingOuter":0.2}},"y":{"field":"lo","type":"quantitative","scale":{"domain":[-0.025,0.225],"nice":false,"zero":false},"axis":{"title":"Relative Expression","labelOverlap":false,"tickCount":100,"values":[-0.025,0,0.025,0.05,0.075,0.1,0.125,0.15,0.175,0.2,0.225],"labelExpr":"round(datum.value*40)%2==0 ? format(datum.value,'.2f') : ''","tickSize":{"condition":{"test":"round(datum.value*40)%2==0","value":6},"value":3}}},"y2":{"field":"hi"}}},
{"data":{"name":"p6"},"transform":[{"aggregate":[{"op":"mean","field":"v","as":"m"},{"op":"stdev","field":"v","as":"sd"}],"groupby":["t","c"]},{"calculate":"datum.m-datum.sd","as":"lo"},{"calculate":"datum.m+datum.sd","as":"hi"},{"fold":["lo","hi"],"as":["k","cv"]}],"mark":{"type":"tick","orient":"horizontal","size":7,"thickness":2,"color":"#000","clip":true},"encoding":{"x":{"field":"t","type":"nominal","scale":{"domain":["3h","8h","24h"],"paddingInner":0,"paddingOuter":0.028,"align":1}},"xOffset":{"field":"c","type":"nominal","scale":{"domain":["LC Control","LC Loaded","KO Control","KO Loaded"],"paddingInner":0,"paddingOuter":0.2}},"y":{"field":"cv","type":"quantitative","scale":{"domain":[-0.025,0.225],"nice":false,"zero":false}}}},
{"data":{"name":"p6"},"transform":[{"aggregate":[{"op":"mean","field":"v","as":"m"}],"groupby":["t","c"]}],"mark":{"type":"tick","orient":"horizontal","size":20,"thickness":2,"color":"#000"},"encoding":{"x":{"field":"t","type":"nominal","scale":{"domain":["3h","8h","24h"],"paddingInner":0,"paddingOuter":0.028,"align":1}},"xOffset":{"field":"c","type":"nominal","scale":{"domain":["LC Control","LC Loaded","KO Control","KO Loaded"],"paddingInner":0,"paddingOuter":0.2}},"y":{"field":"m","type":"quantitative","scale":{"domain":[-0.025,0.225],"nice":false,"zero":false}}}},
{"data":{"name":"p6"},"transform":[{"filter":"indexof(datum.c,'Control')>=0"}],"mark":{"type":"point","filled":true,"size":22,"strokeWidth":1,"opacity":1},"encoding":{"x":{"field":"t","type":"nominal","scale":{"domain":["3h","8h","24h"],"paddingInner":0,"paddingOuter":0.028,"align":1}},"xOffset":{"field":"c","type":"nominal","scale":{"domain":["LC Control","LC Loaded","KO Control","KO Loaded"],"paddingInner":0,"paddingOuter":0.2}},"y":{"field":"v","type":"quantitative","scale":{"domain":[-0.025,0.225],"nice":false,"zero":false}},"shape":{"field":"c","type":"nominal","scale":{"domain":["LC Control","KO Control","LC Loaded","KO Loaded"],"range":["square","triangle-up","square","triangle-up"]},"legend":null},"fill":{"field":"c","type":"nominal","scale":{"domain":["LC Control","KO Control","LC Loaded","KO Loaded"],"range":["#b0b0b0","#c6c6c6","#000000","#000000"]},"legend":null},"stroke":{"field":"c","type":"nominal","scale":{"domain":["LC Control","KO Control","LC Loaded","KO Loaded"],"range":["#6b6b6b","#7a7a7a","#000000","#000000"]},"legend":null}}},
{"data":{"name":"p6"},"transform":[{"filter":"indexof(datum.c,'Loaded')>=0"}],"mark":{"type":"point","filled":true,"size":9,"strokeWidth":0.8,"opacity":1},"encoding":{"x":{"field":"t","type":"nominal","scale":{"domain":["3h","8h","24h"],"paddingInner":0,"paddingOuter":0.028,"align":1}},"xOffset":{"field":"c","type":"nominal","scale":{"domain":["LC Control","LC Loaded","KO Control","KO Loaded"],"paddingInner":0,"paddingOuter":0.2}},"y":{"field":"v","type":"quantitative","scale":{"domain":[-0.025,0.225],"nice":false,"zero":false}},"shape":{"field":"c","type":"nominal","scale":{"domain":["LC Control","KO Control","LC Loaded","KO Loaded"],"range":["square","triangle-up","square","triangle-up"]},"legend":null},"fill":{"field":"c","type":"nominal","scale":{"domain":["LC Control","KO Control","LC Loaded","KO Loaded"],"range":["#b0b0b0","#c6c6c6","#000000","#000000"]},"legend":null},"stroke":{"field":"c","type":"nominal","scale":{"domain":["LC Control","KO Control","LC Loaded","KO Loaded"],"range":["#6b6b6b","#7a7a7a","#000000","#000000"]},"legend":null}}},
{"data":{"name":"cats4"},"mark":{"type":"tick","orient":"vertical","size":5,"thickness":1.5,"yOffset":3.5,"color":"#000"},"encoding":{"x":{"field":"t","type":"nominal","scale":{"domain":["3h","8h","24h"],"paddingInner":0,"paddingOuter":0.028,"align":1}},"xOffset":{"field":"c","type":"nominal","scale":{"domain":["LC Control","LC Loaded","KO Control","KO Loaded"],"paddingInner":0,"paddingOuter":0.2}},"y":{"datum":-0.025,"type":"quantitative","scale":{"domain":[-0.025,0.225],"nice":false,"zero":false}}}},
{"data":{"name":"cats4"},"transform":[{"filter":"datum.lab != ''"}],"mark":{"type":"text","dx":10.2,"dy":14,"fontSize":11,"baseline":"middle","color":"#1a1a1a"},"encoding":{"x":{"field":"t","type":"nominal","scale":{"domain":["3h","8h","24h"],"paddingInner":0,"paddingOuter":0.028,"align":1}},"xOffset":{"field":"c","type":"nominal","scale":{"domain":["LC Control","LC Loaded","KO Control","KO Loaded"],"paddingInner":0,"paddingOuter":0.2}},"y":{"datum":-0.025,"type":"quantitative","scale":{"domain":[-0.025,0.225],"nice":false,"zero":false}},"text":{"field":"lab"}}},
{"data":{"name":"times"},"mark":{"type":"tick","orient":"horizontal","size":82,"thickness":1.2,"yOffset":22,"color":"#000"},"encoding":{"x":{"field":"t","type":"nominal","scale":{"domain":["3h","8h","24h"],"paddingInner":0,"paddingOuter":0.028,"align":1}},"y":{"datum":-0.025,"type":"quantitative","scale":{"domain":[-0.025,0.225],"nice":false,"zero":false}}}},
{"data":{"name":"times"},"mark":{"type":"tick","orient":"vertical","size":4,"thickness":1.2,"yOffset":20,"color":"#000"},"encoding":{"x":{"field":"t","type":"nominal","bandPosition":0.047,"scale":{"domain":["3h","8h","24h"],"paddingInner":0,"paddingOuter":0.028,"align":1}},"y":{"datum":-0.025,"type":"quantitative","scale":{"domain":[-0.025,0.225],"nice":false,"zero":false}}}},
{"data":{"name":"times"},"mark":{"type":"tick","orient":"vertical","size":4,"thickness":1.2,"yOffset":20,"color":"#000"},"encoding":{"x":{"field":"t","type":"nominal","bandPosition":0.953,"scale":{"domain":["3h","8h","24h"],"paddingInner":0,"paddingOuter":0.028,"align":1}},"y":{"datum":-0.025,"type":"quantitative","scale":{"domain":[-0.025,0.225],"nice":false,"zero":false}}}},
{"data":{"name":"times"},"mark":{"type":"text","dy":32,"fontSize":11.5,"fontWeight":"bold","baseline":"middle","color":"#1a1a1a"},"encoding":{"x":{"field":"t","type":"nominal","scale":{"domain":["3h","8h","24h"],"paddingInner":0,"paddingOuter":0.028,"align":1}},"y":{"datum":-0.025,"type":"quantitative","scale":{"domain":[-0.025,0.225],"nice":false,"zero":false}},"text":{"field":"t"}}},
{"data":{"values":[{"t":"3h","g":"Dkk1"}]},"mark":{"type":"text","align":"left","baseline":"top","dx":10,"dy":7,"fontSize":17,"fontWeight":"bold","fontStyle":"italic","color":"#000"},"encoding":{"x":{"field":"t","type":"nominal","bandPosition":0,"scale":{"domain":["3h","8h","24h"],"paddingInner":0,"paddingOuter":0.028,"align":1}},"y":{"datum":0.225,"type":"quantitative","scale":{"domain":[-0.025,0.225],"nice":false,"zero":false}},"text":{"field":"g"}}},
{"data":{"name":"s6"},"mark":{"type":"line","color":"#000","strokeWidth":1.2},"encoding":{"x":{"field":"t","type":"nominal","scale":{"domain":["3h","8h","24h"],"paddingInner":0,"paddingOuter":0.028,"align":1}},"xOffset":{"field":"c","type":"nominal","scale":{"domain":["LC Control","LC Loaded","KO Control","KO Loaded"],"paddingInner":0,"paddingOuter":0.2}},"y":{"field":"v","type":"quantitative","scale":{"domain":[-0.025,0.225],"nice":false,"zero":false}},"detail":{"field":"b","type":"nominal"},"order":{"field":"o","type":"quantitative"}}},
{"data":{"name":"s6"},"mark":{"type":"rule","color":"#000","strokeWidth":1.2},"encoding":{"x":{"field":"t","type":"nominal","scale":{"domain":["3h","8h","24h"],"paddingInner":0,"paddingOuter":0.028,"align":1}},"xOffset":{"field":"c","type":"nominal","scale":{"domain":["LC Control","LC Loaded","KO Control","KO Loaded"],"paddingInner":0,"paddingOuter":0.2}},"y":{"field":"v","type":"quantitative","scale":{"domain":[-0.025,0.225],"nice":false,"zero":false}},"y2":{"field":"lo"}}},
{"data":{"name":"k6"},"transform":[{"filter":"datum.h==0"}],"mark":{"type":"text","fontSize":13,"baseline":"alphabetic","dy":-1.5,"color":"#1a1a1a"},"encoding":{"x":{"field":"t","type":"nominal","scale":{"domain":["3h","8h","24h"],"paddingInner":0,"paddingOuter":0.028,"align":1}},"xOffset":{"field":"c","type":"nominal","scale":{"domain":["LC Control","LC Loaded","KO Control","KO Loaded"],"paddingInner":0,"paddingOuter":0.2}},"y":{"field":"v","type":"quantitative","scale":{"domain":[-0.025,0.225],"nice":false,"zero":false}},"text":{"field":"s"}}},
{"data":{"name":"k6"},"transform":[{"filter":"datum.h==1"}],"mark":{"type":"text","fontSize":13,"baseline":"alphabetic","dy":-1.5,"dx":10.2,"color":"#1a1a1a"},"encoding":{"x":{"field":"t","type":"nominal","scale":{"domain":["3h","8h","24h"],"paddingInner":0,"paddingOuter":0.028,"align":1}},"xOffset":{"field":"c","type":"nominal","scale":{"domain":["LC Control","LC Loaded","KO Control","KO Loaded"],"paddingInner":0,"paddingOuter":0.2}},"y":{"field":"v","type":"quantitative","scale":{"domain":[-0.025,0.225],"nice":false,"zero":false}},"text":{"field":"s"}}}
]},
{"width":274,"height":207,"layer":[
{"data":{"name":"p7"},"transform":[{"aggregate":[{"op":"mean","field":"v","as":"m"},{"op":"stdev","field":"v","as":"sd"}],"groupby":["t","c"]},{"calculate":"datum.m-datum.sd","as":"lo"},{"calculate":"datum.m+datum.sd","as":"hi"}],"mark":{"type":"rule","strokeWidth":2,"color":"#000","clip":true},"encoding":{"x":{"field":"t","type":"nominal","title":null,"scale":{"domain":["3h","8h","24h"],"paddingInner":0,"paddingOuter":0.057,"align":1},"axis":{"gridOpacity":{"condition":{"test":"datum.value === '3h'","value":0},"value":1}}},"xOffset":{"field":"c","type":"nominal","scale":{"domain":["Control","Loaded"],"paddingInner":0,"paddingOuter":0.16}},"y":{"field":"lo","type":"quantitative","scale":{"domain":[-0.002,0.0161],"nice":false,"zero":false},"axis":{"title":"Relative Expression","labelOverlap":false,"tickCount":100,"values":[-0.002,-0.001,0,0.001,0.002,0.003,0.004,0.005,0.006,0.007,0.008,0.009,0.01,0.011,0.012,0.013,0.014,0.015,0.016],"labelExpr":"round(datum.value*1000)%2==0 ? format(datum.value,'.3f') : ''","tickSize":{"condition":{"test":"round(datum.value*1000)%2==0","value":6},"value":3}}},"y2":{"field":"hi"}}},
{"data":{"name":"p7"},"transform":[{"aggregate":[{"op":"mean","field":"v","as":"m"},{"op":"stdev","field":"v","as":"sd"}],"groupby":["t","c"]},{"calculate":"datum.m-datum.sd","as":"lo"},{"calculate":"datum.m+datum.sd","as":"hi"},{"fold":["lo","hi"],"as":["k","cv"]}],"mark":{"type":"tick","orient":"horizontal","size":7,"thickness":2,"color":"#000","clip":true},"encoding":{"x":{"field":"t","type":"nominal","scale":{"domain":["3h","8h","24h"],"paddingInner":0,"paddingOuter":0.057,"align":1}},"xOffset":{"field":"c","type":"nominal","scale":{"domain":["Control","Loaded"],"paddingInner":0,"paddingOuter":0.16}},"y":{"field":"cv","type":"quantitative","scale":{"domain":[-0.002,0.0161],"nice":false,"zero":false}}}},
{"data":{"name":"p7"},"transform":[{"aggregate":[{"op":"mean","field":"v","as":"m"}],"groupby":["t","c"]}],"mark":{"type":"tick","orient":"horizontal","size":35,"thickness":2,"color":"#000"},"encoding":{"x":{"field":"t","type":"nominal","scale":{"domain":["3h","8h","24h"],"paddingInner":0,"paddingOuter":0.057,"align":1}},"xOffset":{"field":"c","type":"nominal","scale":{"domain":["Control","Loaded"],"paddingInner":0,"paddingOuter":0.16}},"y":{"field":"m","type":"quantitative","scale":{"domain":[-0.002,0.0161],"nice":false,"zero":false}}}},
{"data":{"name":"p7"},"transform":[{"filter":"datum.c=='Control'"}],"mark":{"type":"point","filled":true,"size":22,"strokeWidth":1,"opacity":1},"encoding":{"x":{"field":"t","type":"nominal","scale":{"domain":["3h","8h","24h"],"paddingInner":0,"paddingOuter":0.057,"align":1}},"xOffset":{"field":"c","type":"nominal","scale":{"domain":["Control","Loaded"],"paddingInner":0,"paddingOuter":0.16}},"y":{"field":"v","type":"quantitative","scale":{"domain":[-0.002,0.0161],"nice":false,"zero":false}},"shape":{"field":"c","type":"nominal","scale":{"domain":["Control","Loaded"],"range":["square","square"]},"legend":{"title":null,"orient":"none","legendX":15,"legendY":32,"strokeColor":"#000","padding":4,"symbolSize":45,"symbolStrokeWidth":1,"labelFontSize":10,"labelColor":"#1a1a1a","rowPadding":1.5,"labelOffset":3}},"fill":{"field":"c","type":"nominal","scale":{"domain":["Control","Loaded"],"range":["#b0b0b0","#000000"]},"legend":{"title":null,"orient":"none","legendX":15,"legendY":32,"strokeColor":"#000","padding":4,"symbolSize":45,"symbolStrokeWidth":1,"labelFontSize":10,"labelColor":"#1a1a1a","rowPadding":1.5,"labelOffset":3}},"stroke":{"field":"c","type":"nominal","scale":{"domain":["Control","Loaded"],"range":["#6b6b6b","#000000"]},"legend":{"title":null,"orient":"none","legendX":15,"legendY":32,"strokeColor":"#000","padding":4,"symbolSize":45,"symbolStrokeWidth":1,"labelFontSize":10,"labelColor":"#1a1a1a","rowPadding":1.5,"labelOffset":3}}}},
{"data":{"name":"p7"},"transform":[{"filter":"datum.c=='Loaded'"}],"mark":{"type":"point","filled":true,"size":9,"strokeWidth":0.8,"opacity":1},"encoding":{"x":{"field":"t","type":"nominal","scale":{"domain":["3h","8h","24h"],"paddingInner":0,"paddingOuter":0.057,"align":1}},"xOffset":{"field":"c","type":"nominal","scale":{"domain":["Control","Loaded"],"paddingInner":0,"paddingOuter":0.16}},"y":{"field":"v","type":"quantitative","scale":{"domain":[-0.002,0.0161],"nice":false,"zero":false}},"shape":{"field":"c","type":"nominal","scale":{"domain":["Control","Loaded"],"range":["square","square"]},"legend":{"title":null,"orient":"none","legendX":15,"legendY":32,"strokeColor":"#000","padding":4,"symbolSize":45,"symbolStrokeWidth":1,"labelFontSize":10,"labelColor":"#1a1a1a","rowPadding":1.5,"labelOffset":3}},"fill":{"field":"c","type":"nominal","scale":{"domain":["Control","Loaded"],"range":["#b0b0b0","#000000"]},"legend":{"title":null,"orient":"none","legendX":15,"legendY":32,"strokeColor":"#000","padding":4,"symbolSize":45,"symbolStrokeWidth":1,"labelFontSize":10,"labelColor":"#1a1a1a","rowPadding":1.5,"labelOffset":3}},"stroke":{"field":"c","type":"nominal","scale":{"domain":["Control","Loaded"],"range":["#6b6b6b","#000000"]},"legend":{"title":null,"orient":"none","legendX":15,"legendY":32,"strokeColor":"#000","padding":4,"symbolSize":45,"symbolStrokeWidth":1,"labelFontSize":10,"labelColor":"#1a1a1a","rowPadding":1.5,"labelOffset":3}}}},
{"data":{"name":"cats2"},"mark":{"type":"tick","orient":"vertical","size":5,"thickness":1.5,"yOffset":3.5,"color":"#000"},"encoding":{"x":{"field":"t","type":"nominal","scale":{"domain":["3h","8h","24h"],"paddingInner":0,"paddingOuter":0.057,"align":1}},"xOffset":{"field":"c","type":"nominal","scale":{"domain":["Control","Loaded"],"paddingInner":0,"paddingOuter":0.16}},"y":{"datum":-0.002,"type":"quantitative","scale":{"domain":[-0.002,0.0161],"nice":false,"zero":false}}}},
{"data":{"name":"cats2"},"mark":{"type":"text","dy":15,"fontSize":11,"baseline":"middle","color":"#1a1a1a"},"encoding":{"x":{"field":"t","type":"nominal","scale":{"domain":["3h","8h","24h"],"paddingInner":0,"paddingOuter":0.057,"align":1}},"xOffset":{"field":"c","type":"nominal","scale":{"domain":["Control","Loaded"],"paddingInner":0,"paddingOuter":0.16}},"y":{"datum":-0.002,"type":"quantitative","scale":{"domain":[-0.002,0.0161],"nice":false,"zero":false}},"text":{"field":"lab"}}},
{"data":{"name":"times"},"mark":{"type":"tick","orient":"horizontal","size":74,"thickness":1.2,"yOffset":22,"color":"#000"},"encoding":{"x":{"field":"t","type":"nominal","scale":{"domain":["3h","8h","24h"],"paddingInner":0,"paddingOuter":0.057,"align":1}},"y":{"datum":-0.002,"type":"quantitative","scale":{"domain":[-0.002,0.0161],"nice":false,"zero":false}}}},
{"data":{"name":"times"},"mark":{"type":"tick","orient":"vertical","size":4,"thickness":1.2,"yOffset":20,"color":"#000"},"encoding":{"x":{"field":"t","type":"nominal","bandPosition":0.08,"scale":{"domain":["3h","8h","24h"],"paddingInner":0,"paddingOuter":0.057,"align":1}},"y":{"datum":-0.002,"type":"quantitative","scale":{"domain":[-0.002,0.0161],"nice":false,"zero":false}}}},
{"data":{"name":"times"},"mark":{"type":"tick","orient":"vertical","size":4,"thickness":1.2,"yOffset":20,"color":"#000"},"encoding":{"x":{"field":"t","type":"nominal","bandPosition":0.92,"scale":{"domain":["3h","8h","24h"],"paddingInner":0,"paddingOuter":0.057,"align":1}},"y":{"datum":-0.002,"type":"quantitative","scale":{"domain":[-0.002,0.0161],"nice":false,"zero":false}}}},
{"data":{"name":"times"},"mark":{"type":"text","dy":31,"fontSize":11.5,"fontWeight":"bold","baseline":"middle","color":"#1a1a1a"},"encoding":{"x":{"field":"t","type":"nominal","scale":{"domain":["3h","8h","24h"],"paddingInner":0,"paddingOuter":0.057,"align":1}},"y":{"datum":-0.002,"type":"quantitative","scale":{"domain":[-0.002,0.0161],"nice":false,"zero":false}},"text":{"field":"t"}}},
{"data":{"values":[{"t":"3h","g":"Sost"}]},"mark":{"type":"text","align":"left","baseline":"top","dx":4,"dy":5,"fontSize":17,"fontWeight":"bold","fontStyle":"italic","color":"#000"},"encoding":{"x":{"field":"t","type":"nominal","bandPosition":0,"scale":{"domain":["3h","8h","24h"],"paddingInner":0,"paddingOuter":0.057,"align":1}},"y":{"datum":0.0161,"type":"quantitative","scale":{"domain":[-0.002,0.0161],"nice":false,"zero":false}},"text":{"field":"g"}}}
]},
{"width":276,"height":208,"layer":[
{"data":{"name":"p8"},"transform":[{"aggregate":[{"op":"mean","field":"v","as":"m"},{"op":"stdev","field":"v","as":"sd"}],"groupby":["t","c"]},{"calculate":"datum.m-datum.sd","as":"lo"},{"calculate":"datum.m+datum.sd","as":"hi"}],"mark":{"type":"rule","strokeWidth":2,"color":"#000","clip":true},"encoding":{"x":{"field":"t","type":"nominal","title":null,"scale":{"domain":["3h","8h","24h"],"paddingInner":0,"paddingOuter":0.057,"align":1},"axis":{"gridOpacity":{"condition":{"test":"datum.value === '3h'","value":0},"value":1}}},"xOffset":{"field":"c","type":"nominal","scale":{"domain":["Control","Loaded"],"paddingInner":0,"paddingOuter":0.16}},"y":{"field":"lo","type":"quantitative","scale":{"domain":[0,0.2755],"nice":false,"zero":false},"axis":{"title":"Relative Expression","labelOverlap":false,"tickCount":100,"values":[0,0.025,0.05,0.075,0.1,0.125,0.15,0.175,0.2,0.225,0.25,0.275],"labelExpr":"round(datum.value*40)%2==0 ? format(datum.value,'.2f') : ''","tickSize":{"condition":{"test":"round(datum.value*40)%2==0","value":6},"value":3}}},"y2":{"field":"hi"}}},
{"data":{"name":"p8"},"transform":[{"aggregate":[{"op":"mean","field":"v","as":"m"},{"op":"stdev","field":"v","as":"sd"}],"groupby":["t","c"]},{"calculate":"datum.m-datum.sd","as":"lo"},{"calculate":"datum.m+datum.sd","as":"hi"},{"fold":["lo","hi"],"as":["k","cv"]}],"mark":{"type":"tick","orient":"horizontal","size":7,"thickness":2,"color":"#000","clip":true},"encoding":{"x":{"field":"t","type":"nominal","scale":{"domain":["3h","8h","24h"],"paddingInner":0,"paddingOuter":0.057,"align":1}},"xOffset":{"field":"c","type":"nominal","scale":{"domain":["Control","Loaded"],"paddingInner":0,"paddingOuter":0.16}},"y":{"field":"cv","type":"quantitative","scale":{"domain":[0,0.2755],"nice":false,"zero":false}}}},
{"data":{"name":"p8"},"transform":[{"aggregate":[{"op":"mean","field":"v","as":"m"}],"groupby":["t","c"]}],"mark":{"type":"tick","orient":"horizontal","size":35,"thickness":2,"color":"#000"},"encoding":{"x":{"field":"t","type":"nominal","scale":{"domain":["3h","8h","24h"],"paddingInner":0,"paddingOuter":0.057,"align":1}},"xOffset":{"field":"c","type":"nominal","scale":{"domain":["Control","Loaded"],"paddingInner":0,"paddingOuter":0.16}},"y":{"field":"m","type":"quantitative","scale":{"domain":[0,0.2755],"nice":false,"zero":false}}}},
{"data":{"name":"p8"},"transform":[{"filter":"datum.c=='Control'"}],"mark":{"type":"point","filled":true,"size":22,"strokeWidth":1,"opacity":1},"encoding":{"x":{"field":"t","type":"nominal","scale":{"domain":["3h","8h","24h"],"paddingInner":0,"paddingOuter":0.057,"align":1}},"xOffset":{"field":"c","type":"nominal","scale":{"domain":["Control","Loaded"],"paddingInner":0,"paddingOuter":0.16}},"y":{"field":"v","type":"quantitative","scale":{"domain":[0,0.2755],"nice":false,"zero":false}},"shape":{"field":"c","type":"nominal","scale":{"domain":["Control","Loaded"],"range":["square","square"]},"legend":null},"fill":{"field":"c","type":"nominal","scale":{"domain":["Control","Loaded"],"range":["#b0b0b0","#000000"]},"legend":null},"stroke":{"field":"c","type":"nominal","scale":{"domain":["Control","Loaded"],"range":["#6b6b6b","#000000"]},"legend":null}}},
{"data":{"name":"p8"},"transform":[{"filter":"datum.c=='Loaded'"}],"mark":{"type":"point","filled":true,"size":9,"strokeWidth":0.8,"opacity":1},"encoding":{"x":{"field":"t","type":"nominal","scale":{"domain":["3h","8h","24h"],"paddingInner":0,"paddingOuter":0.057,"align":1}},"xOffset":{"field":"c","type":"nominal","scale":{"domain":["Control","Loaded"],"paddingInner":0,"paddingOuter":0.16}},"y":{"field":"v","type":"quantitative","scale":{"domain":[0,0.2755],"nice":false,"zero":false}},"shape":{"field":"c","type":"nominal","scale":{"domain":["Control","Loaded"],"range":["square","square"]},"legend":null},"fill":{"field":"c","type":"nominal","scale":{"domain":["Control","Loaded"],"range":["#b0b0b0","#000000"]},"legend":null},"stroke":{"field":"c","type":"nominal","scale":{"domain":["Control","Loaded"],"range":["#6b6b6b","#000000"]},"legend":null}}},
{"data":{"name":"cats2"},"mark":{"type":"tick","orient":"vertical","size":5,"thickness":1.5,"yOffset":3.5,"color":"#000"},"encoding":{"x":{"field":"t","type":"nominal","scale":{"domain":["3h","8h","24h"],"paddingInner":0,"paddingOuter":0.057,"align":1}},"xOffset":{"field":"c","type":"nominal","scale":{"domain":["Control","Loaded"],"paddingInner":0,"paddingOuter":0.16}},"y":{"datum":0,"type":"quantitative","scale":{"domain":[0,0.2755],"nice":false,"zero":false}}}},
{"data":{"name":"cats2"},"mark":{"type":"text","dy":15,"fontSize":11,"baseline":"middle","color":"#1a1a1a"},"encoding":{"x":{"field":"t","type":"nominal","scale":{"domain":["3h","8h","24h"],"paddingInner":0,"paddingOuter":0.057,"align":1}},"xOffset":{"field":"c","type":"nominal","scale":{"domain":["Control","Loaded"],"paddingInner":0,"paddingOuter":0.16}},"y":{"datum":0,"type":"quantitative","scale":{"domain":[0,0.2755],"nice":false,"zero":false}},"text":{"field":"lab"}}},
{"data":{"name":"times"},"mark":{"type":"tick","orient":"horizontal","size":74,"thickness":1.2,"yOffset":22,"color":"#000"},"encoding":{"x":{"field":"t","type":"nominal","scale":{"domain":["3h","8h","24h"],"paddingInner":0,"paddingOuter":0.057,"align":1}},"y":{"datum":0,"type":"quantitative","scale":{"domain":[0,0.2755],"nice":false,"zero":false}}}},
{"data":{"name":"times"},"mark":{"type":"tick","orient":"vertical","size":4,"thickness":1.2,"yOffset":20,"color":"#000"},"encoding":{"x":{"field":"t","type":"nominal","bandPosition":0.082,"scale":{"domain":["3h","8h","24h"],"paddingInner":0,"paddingOuter":0.057,"align":1}},"y":{"datum":0,"type":"quantitative","scale":{"domain":[0,0.2755],"nice":false,"zero":false}}}},
{"data":{"name":"times"},"mark":{"type":"tick","orient":"vertical","size":4,"thickness":1.2,"yOffset":20,"color":"#000"},"encoding":{"x":{"field":"t","type":"nominal","bandPosition":0.918,"scale":{"domain":["3h","8h","24h"],"paddingInner":0,"paddingOuter":0.057,"align":1}},"y":{"datum":0,"type":"quantitative","scale":{"domain":[0,0.2755],"nice":false,"zero":false}}}},
{"data":{"name":"times"},"mark":{"type":"text","dy":31,"fontSize":11.5,"fontWeight":"bold","baseline":"middle","color":"#1a1a1a"},"encoding":{"x":{"field":"t","type":"nominal","scale":{"domain":["3h","8h","24h"],"paddingInner":0,"paddingOuter":0.057,"align":1}},"y":{"datum":0,"type":"quantitative","scale":{"domain":[0,0.2755],"nice":false,"zero":false}},"text":{"field":"t"}}},
{"data":{"values":[{"t":"3h","g":"Sost"}]},"mark":{"type":"text","align":"left","baseline":"top","dx":5,"dy":7,"fontSize":17,"fontWeight":"bold","fontStyle":"italic","color":"#000"},"encoding":{"x":{"field":"t","type":"nominal","bandPosition":0,"scale":{"domain":["3h","8h","24h"],"paddingInner":0,"paddingOuter":0.057,"align":1}},"y":{"datum":0.2755,"type":"quantitative","scale":{"domain":[0,0.2755],"nice":false,"zero":false}},"text":{"field":"g"}}}
]}
]
}
